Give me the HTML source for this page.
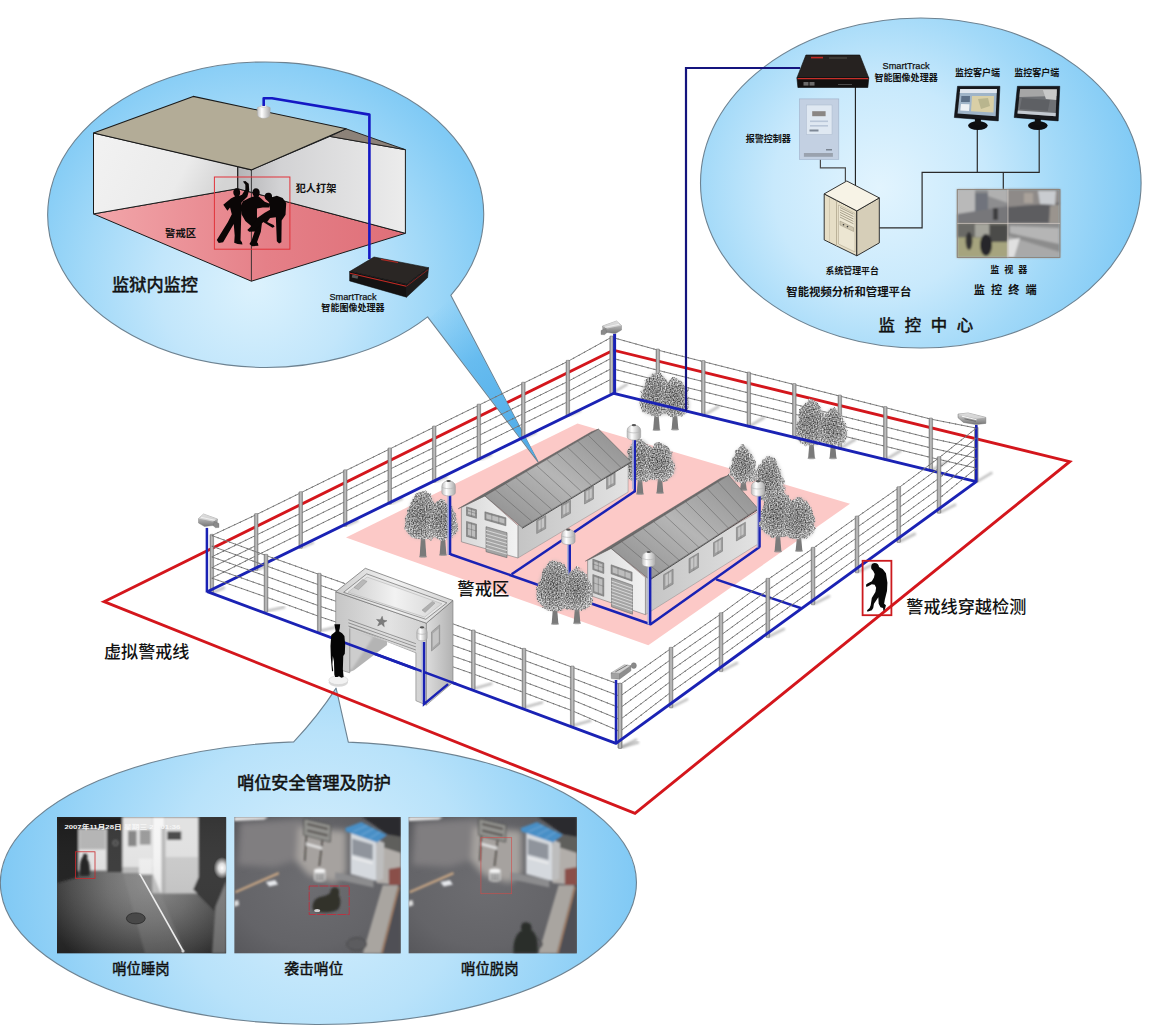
<!DOCTYPE html>
<html lang="zh-CN">
<head>
<meta charset="utf-8">
<title>智能视频监控 - 监狱周界防范系统示意图</title>
<style>
html,body{margin:0;padding:0;background:#fff;}
body{width:1152px;height:1033px;overflow:hidden;font-family:"Liberation Sans","Noto Sans CJK SC",sans-serif;}
svg{display:block;}
text{font-family:"Liberation Sans","Noto Sans CJK SC",sans-serif;fill:#111;}
.b{font-weight:bold;}
</style>
</head>
<body>
<svg width="1152" height="1033" viewBox="0 0 1152 1033">
<defs>
<radialGradient id="gE1" gradientUnits="userSpaceOnUse" cx="255" cy="285" r="242">
 <stop offset="0" stop-color="#dcf2fd"/><stop offset="0.4" stop-color="#c2e6fb"/><stop offset="0.7" stop-color="#a2d9f8"/><stop offset="1" stop-color="#80caf5"/>
</radialGradient>
<radialGradient id="gE2" gradientUnits="userSpaceOnUse" cx="880" cy="188" r="266">
 <stop offset="0" stop-color="#e2f4fe"/><stop offset="0.4" stop-color="#c8e9fc"/><stop offset="0.68" stop-color="#a2d9f8"/><stop offset="1" stop-color="#7ec9f5"/>
</radialGradient>
<radialGradient id="gE3" gradientUnits="userSpaceOnUse" cx="319" cy="880" r="330">
 <stop offset="0" stop-color="#d6effd"/><stop offset="0.45" stop-color="#b8e2fa"/><stop offset="0.75" stop-color="#98d4f7"/><stop offset="1" stop-color="#7cc7f4"/>
</radialGradient>
<linearGradient id="gPost" x1="0" x2="1" y1="0" y2="0">
 <stop offset="0" stop-color="#868686"/><stop offset="0.5" stop-color="#c4c4c4"/><stop offset="1" stop-color="#8e8e8e"/>
</linearGradient>
<linearGradient id="gFloor" x1="0" x2="1" y1="0" y2="0">
 <stop offset="0" stop-color="#f2a6aa"/><stop offset="0.55" stop-color="#e58088"/><stop offset="1" stop-color="#df6f78"/>
</linearGradient>
<linearGradient id="gWallL" x1="0" x2="1" y1="0" y2="0.3">
 <stop offset="0" stop-color="#f2f2f2"/><stop offset="0.7" stop-color="#ebebeb"/><stop offset="1" stop-color="#d4d4d4"/>
</linearGradient>
<linearGradient id="gWallR" x1="0" x2="1" y1="0" y2="0">
 <stop offset="0" stop-color="#b4b4b6"/><stop offset="0.25" stop-color="#d2d2d4"/><stop offset="1" stop-color="#ececec"/>
</linearGradient>
<linearGradient id="gRoof1" x1="0" x2="1" y1="1" y2="0">
 <stop offset="0" stop-color="#8a8a8a"/><stop offset="0.5" stop-color="#b6b6b6"/><stop offset="1" stop-color="#8c8c8c"/>
</linearGradient>
<linearGradient id="gWallF" x1="0" x2="1" y1="0" y2="0">
 <stop offset="0" stop-color="#d8d8d8"/><stop offset="1" stop-color="#f2f2f2"/>
</linearGradient>
<linearGradient id="gWallS" x1="0" x2="1" y1="0" y2="0">
 <stop offset="0" stop-color="#c4c4c4"/><stop offset="1" stop-color="#e2e2e2"/>
</linearGradient>
<radialGradient id="gTree" cx="0.45" cy="0.5" r="0.55">
 <stop offset="0" stop-color="#686868"/><stop offset="0.6" stop-color="#8a8a8a"/><stop offset="1" stop-color="#cacaca"/>
</radialGradient>
<linearGradient id="gLamp" x1="0" x2="1" y1="0" y2="0">
 <stop offset="0" stop-color="#bdbdbd"/><stop offset="0.35" stop-color="#ffffff"/><stop offset="1" stop-color="#a8a8a8"/>
</linearGradient>
<linearGradient id="gCam" x1="0" x2="0" y1="0" y2="1">
 <stop offset="0" stop-color="#e4e4e4"/><stop offset="0.5" stop-color="#a8a8a8"/><stop offset="1" stop-color="#777"/>
</linearGradient>
<linearGradient id="gGateF" x1="0" x2="1" y1="0" y2="0">
 <stop offset="0" stop-color="#c6c6c6"/><stop offset="0.6" stop-color="#e2e2e2"/><stop offset="1" stop-color="#d0d0d0"/>
</linearGradient>
<linearGradient id="gGateS" x1="0" x2="1" y1="0" y2="0">
 <stop offset="0" stop-color="#dcdcdc"/><stop offset="1" stop-color="#b2b2b2"/>
</linearGradient>
<linearGradient id="gGateT" x1="0" x2="1" y1="0" y2="0">
 <stop offset="0" stop-color="#cfcfcf"/><stop offset="0.5" stop-color="#f2f2f2"/><stop offset="1" stop-color="#d6d6d6"/>
</linearGradient>
<linearGradient id="gTail" gradientUnits="userSpaceOnUse" x1="440" y1="305" x2="538" y2="462">
 <stop offset="0" stop-color="#6fc0f0" stop-opacity="0"/><stop offset="0.35" stop-color="#62b9ee" stop-opacity="0.85"/><stop offset="1" stop-color="#4aa8e6" stop-opacity="1"/>
</linearGradient>
<filter id="fBlur1" x="-20%" y="-20%" width="140%" height="140%"><feGaussianBlur stdDeviation="0.8"/></filter>
<filter id="fBlur2" x="-20%" y="-20%" width="140%" height="140%"><feGaussianBlur stdDeviation="1.6"/></filter>
<filter id="fBlur3" x="-30%" y="-30%" width="160%" height="160%"><feGaussianBlur stdDeviation="3"/></filter>
<filter id="fTree" x="-15%" y="-15%" width="130%" height="130%" color-interpolation-filters="sRGB">
 <feTurbulence type="fractalNoise" baseFrequency="0.13" numOctaves="2" seed="4" result="lo"/>
 <feDisplacementMap in="SourceGraphic" in2="lo" scale="7" xChannelSelector="R" yChannelSelector="G" result="S"/>
 <feTurbulence type="fractalNoise" baseFrequency="0.75" numOctaves="1" seed="9" result="hi"/>
 <feColorMatrix in="hi" type="matrix" values="1.8 0 0 0 -0.42  1.8 0 0 0 -0.42  1.8 0 0 0 -0.42  0 0 0 0 1" result="g"/>
 <feComposite in="g" in2="S" operator="arithmetic" k1="0" k2="0.62" k3="0.5" k4="0" result="m"/>
 <feComposite in="m" in2="S" operator="in" result="c"/>
 <feGaussianBlur in="c" stdDeviation="0.5"/>
</filter>
<filter id="fGrain" x="0" y="0" width="100%" height="100%">
 <feTurbulence type="fractalNoise" baseFrequency="0.9" numOctaves="2" seed="3" result="n"/>
 <feColorMatrix in="n" type="matrix" values="0 0 0 0 0.5  0 0 0 0 0.5  0 0 0 0 0.5  0 0 0 0.9 -0.25"/>
 <feComposite in2="SourceGraphic" operator="in"/>
</filter>
</defs>
<rect width="1152" height="1033" fill="#ffffff"/>
<path d="M293.7,741.9 Q318.0,716.0 336.1,688.1 L348.3,742.1 A318,141.5 0 1 1 293.7,741.9 Z" fill="url(#gE3)" stroke="#6d8291" stroke-width="1.1" stroke-linejoin="round"/>
<svg x="57.0" y="817.0" width="169.3" height="136.6" viewBox="0 0 169.3 136.6" preserveAspectRatio="none">
<defs><radialGradient id="p1g" gradientUnits="userSpaceOnUse" cx="92" cy="66" r="105"><stop offset="0" stop-color="#8e8e8e"/><stop offset="0.4" stop-color="#707070"/><stop offset="0.75" stop-color="#4a4a4a"/><stop offset="1" stop-color="#2a2a2a"/></radialGradient><radialGradient id="p1f" cx="0.5" cy="0.5" r="0.5"><stop offset="0" stop-color="#ffffff"/><stop offset="0.4" stop-color="#f0f0f0" stop-opacity="0.9"/><stop offset="1" stop-color="#ffffff" stop-opacity="0"/></radialGradient><linearGradient id="p1s" x1="0" x2="0" y1="0" y2="1"><stop offset="0" stop-color="#ffffff" stop-opacity="0"/><stop offset="1" stop-color="#000" stop-opacity="0.18"/></linearGradient></defs>
<rect width="169.3" height="136.6" fill="url(#p1g)"/>
<g filter="url(#fBlur1)">
<polygon points="0.0,0.0 65.5,0.0 65.5,12.0 21.5,12.0 21.5,60.0 0.0,66.0" fill="#1e1e1e"/>
<rect x="21.5" y="12" width="28.3" height="41.6" fill="#e4e4e4"/>
<rect x="22.5" y="12" width="26" height="20.4" fill="#b4b4b4"/>
<rect x="49.8" y="10" width="15.7" height="45" fill="#383838"/>
<circle cx="58.5" cy="26" r="2.4" fill="none" stroke="#8a8a8a" stroke-width="0.8"/>
<rect x="65.5" y="0" width="29.8" height="50" fill="#e6e6e6"/>
<rect x="71" y="13.6" width="8.6" height="15.7" fill="#858585"/><rect x="82.7" y="12.9" width="11" height="14.8" fill="#9a9a9a"/>
<rect x="65.5" y="50" width="17" height="6" fill="#bdbdbd"/>
<rect x="95.3" y="0" width="12.5" height="76.3" fill="#f6f6f6"/>
<rect x="107.8" y="0" width="33.8" height="76.3" fill="#e2e2e2"/>
<rect x="107.8" y="40" width="33.8" height="36.3" fill="#cccccc"/>
<rect x="110.2" y="14.4" width="14.1" height="8.6" fill="#4a4a4a"/>
<rect x="104.5" y="10" width="4" height="66" fill="#b8b8b8"/>
<polygon points="141.6,0.0 169.3,0.0 169.3,72.0 161.2,98.0 136.1,72.5 141.6,60.0" fill="#363636"/>
<polygon points="158.5,90.0 169.3,64.0 169.3,136.6 155.0,136.6" fill="#808080"/>
<polygon points="66.0,56.0 96.0,57.0 128.0,136.6 88.0,136.6" fill="#8c8c8c" opacity="0.45"/>
<rect x="82" y="41.8" width="13.3" height="15.7" fill="#f2f2f2"/>
</g>
<rect width="169.3" height="136.6" fill="url(#p1s)"/>
<ellipse cx="165" cy="51" rx="8.5" ry="11" fill="url(#p1f)"/>
<path d="M23,59 C22,50 23,42 26,39.5 C25.5,37 28,35.8 29.6,37.2 C31,38.5 30.6,40.4 30,41.4 C33,45 33.4,53 32.4,59 Z" fill="#262626" filter="url(#fBlur1)"/>
<rect x="18.4" y="34.8" width="19.6" height="26.6" fill="none" stroke="#c8282c" stroke-width="0.8"/>
<line x1="82.7" y1="56.7" x2="125.9" y2="133.5" stroke="#ececec" stroke-width="1.6"/>
<circle cx="126" cy="134" r="1.6" fill="#d0d0d0"/>
<ellipse cx="78.8" cy="101.4" rx="9.4" ry="5.5" fill="#484848" stroke="#2c2c2c" stroke-width="0.9"/>
</svg>
<svg x="234.2" y="817.0" width="166.6" height="136.6" viewBox="0 0 166.6 136.6" preserveAspectRatio="none">
<defs><radialGradient id="p2g0" cx="0.45" cy="0.5" r="0.75"><stop offset="0" stop-color="#6d6d71"/><stop offset="0.6" stop-color="#646468"/><stop offset="1" stop-color="#525256"/></radialGradient></defs>
<rect width="166.6" height="136.6" fill="url(#p2g0)"/>
<g filter="url(#fBlur3)">
<polygon points="6.0,6.0 70.0,2.0 72.0,40.0 40.0,50.0 4.0,48.0" fill="#807e80"/>
<polygon points="64.0,10.0 112.0,14.0 112.0,56.0 100.0,66.0 74.0,58.0 62.0,44.0" fill="#a6a29f"/>
</g>
<g filter="url(#fBlur1)">
<polygon points="0.0,0.0 34.0,0.0 30.0,2.6 0.0,4.0" fill="#e8e8e8"/>
<polygon points="128.0,0.0 166.6,0.0 166.6,20.0 152.0,17.0 140.0,8.0" fill="#2c2c2e"/>
<polygon points="148.0,18.0 166.6,20.0 166.6,38.0 150.0,33.0" fill="#5e5e5c"/>
<polygon points="142.0,28.0 166.6,36.0 166.6,68.0 142.4,66.0" fill="#b2aeaa"/>
<polygon points="154.6,52.0 166.6,50.0 166.6,69.0 154.6,70.0" fill="#8a5048"/>
<polygon points="150.0,68.0 166.6,68.0 166.6,136.6 140.0,136.6" fill="#505054"/>
<polygon points="148.5,68.3 164.0,68.3 146.5,136.6 128.6,136.6" fill="#a9a5a0"/>
<line x1="164.6" y1="70.0" x2="147.5" y2="136.6" stroke="#b88a68" stroke-width="1.3"/>
<polygon points="101.1,55.3 139.3,63.0 139.3,70.5 101.1,62.0" fill="#8c8c8e"/>
<polygon points="116.4,14.0 142.4,22.0 142.4,64.0 116.4,57.0" fill="#d5d9de"/>
<polygon points="142.4,22.0 150.0,26.0 149.0,62.0 142.4,64.0" fill="#bdbdbd"/>
<polygon points="118.0,21.5 138.5,27.5 138.5,43.0 118.0,37.5" fill="#8f949c"/>
<polygon points="118.0,40.0 138.5,45.5 138.5,47.0 118.0,41.5" fill="#f2f2f2"/>
<polygon points="111.1,11.0 127.1,4.9 152.5,17.9 143.0,25.4 111.8,14.4" fill="#4a8fc6"/>
<line x1="119.1" y1="14.6" x2="133.4" y2="8.2" stroke="#7db4de" stroke-width="0.7"/>
<line x1="127.0" y1="18.2" x2="139.8" y2="11.4" stroke="#7db4de" stroke-width="0.7"/>
<line x1="135.0" y1="21.8" x2="146.2" y2="14.6" stroke="#7db4de" stroke-width="0.7"/>
<polygon points="69.8,1.8 96.6,8.0 96.0,25.0 69.4,18.0" fill="#92928e" stroke="#4a4a48" stroke-width="0.9"/>
<line x1="73.0" y1="7.0" x2="93.5" y2="12.0" stroke="#54504e" stroke-width="2"/>
<line x1="73.0" y1="13.5" x2="93.5" y2="18.5" stroke="#54504e" stroke-width="2"/>
<line x1="72.1" y1="18.5" x2="70.6" y2="44.0" stroke="#46423e" stroke-width="1.4"/>
<line x1="88.2" y1="23.0" x2="85.1" y2="49.2" stroke="#46423e" stroke-width="1.4"/>
<polygon points="72.0,25.5 88.0,30.0 88.0,32.8 72.0,28.3" fill="#e2e2e2"/>
<rect x="79.8" y="53.5" width="11.4" height="9.5" fill="#d9d9d9"/><ellipse cx="85.5" cy="53.5" rx="5.7" ry="2.1" fill="#f4f4f4"/><ellipse cx="85.5" cy="63" rx="5.7" ry="1.8" fill="#c9c9c9"/>
<line x1="82.0" y1="56.5" x2="82.0" y2="63.5" stroke="#3c3c3c" stroke-width="0.9"/>
<line x1="84.4" y1="56.5" x2="84.4" y2="63.5" stroke="#3c3c3c" stroke-width="0.9"/>
<line x1="86.8" y1="56.5" x2="86.8" y2="63.5" stroke="#3c3c3c" stroke-width="0.9"/>
<line x1="89.2" y1="56.5" x2="89.2" y2="63.5" stroke="#3c3c3c" stroke-width="0.9"/>
<line x1="1.1" y1="75.2" x2="44.6" y2="56.1" stroke="#c8a684" stroke-width="2.3"/>
<polygon points="31.6,65.0 41.0,63.0 43.9,67.5 35.0,69.5" fill="#e6e8ec"/>
<polygon points="0.0,84.0 4.0,83.0 5.0,88.0 0.0,90.0" fill="#dedede"/>
<ellipse cx="122.5" cy="127.1" rx="9.9" ry="6.4" fill="#5c5c5e" stroke="#444446" stroke-width="0.9"/>
</g>
<path d="M79,93 C77,88 80,81 86,80 C90,79 94,78 96,76 C96,72 99,69.5 102,70.5 C105,71.5 105.5,75 104.5,78 C107,82 107,90 103,93 C97,96 86,96.5 79,93 Z" fill="#30302c" filter="url(#fBlur1)"/>
<ellipse cx="83" cy="93.5" rx="3" ry="1.6" fill="#d0d0d0"/>
<rect x="75" y="69" width="40" height="28.5" fill="none" stroke="#c42c3c" stroke-width="0.85" stroke-dasharray="9 1.2"/>
</svg>
<svg x="408.4" y="817.0" width="168.5" height="136.6" viewBox="0 0 166.6 136.6" preserveAspectRatio="none">
<defs><radialGradient id="p2g1" cx="0.45" cy="0.5" r="0.75"><stop offset="0" stop-color="#6d6d71"/><stop offset="0.6" stop-color="#646468"/><stop offset="1" stop-color="#525256"/></radialGradient></defs>
<rect width="166.6" height="136.6" fill="url(#p2g1)"/>
<g filter="url(#fBlur3)">
<polygon points="6.0,6.0 70.0,2.0 72.0,40.0 40.0,50.0 4.0,48.0" fill="#807e80"/>
<polygon points="64.0,10.0 112.0,14.0 112.0,56.0 100.0,66.0 74.0,58.0 62.0,44.0" fill="#a6a29f"/>
</g>
<g filter="url(#fBlur1)">
<polygon points="0.0,0.0 34.0,0.0 30.0,2.6 0.0,4.0" fill="#e8e8e8"/>
<polygon points="128.0,0.0 166.6,0.0 166.6,20.0 152.0,17.0 140.0,8.0" fill="#2c2c2e"/>
<polygon points="148.0,18.0 166.6,20.0 166.6,38.0 150.0,33.0" fill="#5e5e5c"/>
<polygon points="142.0,28.0 166.6,36.0 166.6,68.0 142.4,66.0" fill="#b2aeaa"/>
<polygon points="154.6,52.0 166.6,50.0 166.6,69.0 154.6,70.0" fill="#8a5048"/>
<polygon points="150.0,68.0 166.6,68.0 166.6,136.6 140.0,136.6" fill="#505054"/>
<polygon points="148.5,68.3 164.0,68.3 146.5,136.6 128.6,136.6" fill="#a9a5a0"/>
<line x1="164.6" y1="70.0" x2="147.5" y2="136.6" stroke="#b88a68" stroke-width="1.3"/>
<polygon points="101.1,55.3 139.3,63.0 139.3,70.5 101.1,62.0" fill="#8c8c8e"/>
<polygon points="116.4,14.0 142.4,22.0 142.4,64.0 116.4,57.0" fill="#d5d9de"/>
<polygon points="142.4,22.0 150.0,26.0 149.0,62.0 142.4,64.0" fill="#bdbdbd"/>
<polygon points="118.0,21.5 138.5,27.5 138.5,43.0 118.0,37.5" fill="#8f949c"/>
<polygon points="118.0,40.0 138.5,45.5 138.5,47.0 118.0,41.5" fill="#f2f2f2"/>
<polygon points="111.1,11.0 127.1,4.9 152.5,17.9 143.0,25.4 111.8,14.4" fill="#4a8fc6"/>
<line x1="119.1" y1="14.6" x2="133.4" y2="8.2" stroke="#7db4de" stroke-width="0.7"/>
<line x1="127.0" y1="18.2" x2="139.8" y2="11.4" stroke="#7db4de" stroke-width="0.7"/>
<line x1="135.0" y1="21.8" x2="146.2" y2="14.6" stroke="#7db4de" stroke-width="0.7"/>
<polygon points="69.8,1.8 96.6,8.0 96.0,25.0 69.4,18.0" fill="#92928e" stroke="#4a4a48" stroke-width="0.9"/>
<line x1="73.0" y1="7.0" x2="93.5" y2="12.0" stroke="#54504e" stroke-width="2"/>
<line x1="73.0" y1="13.5" x2="93.5" y2="18.5" stroke="#54504e" stroke-width="2"/>
<line x1="72.1" y1="18.5" x2="70.6" y2="44.0" stroke="#46423e" stroke-width="1.4"/>
<line x1="88.2" y1="23.0" x2="85.1" y2="49.2" stroke="#46423e" stroke-width="1.4"/>
<polygon points="72.0,25.5 88.0,30.0 88.0,32.8 72.0,28.3" fill="#e2e2e2"/>
<rect x="79.8" y="53.5" width="11.4" height="9.5" fill="#d9d9d9"/><ellipse cx="85.5" cy="53.5" rx="5.7" ry="2.1" fill="#f4f4f4"/><ellipse cx="85.5" cy="63" rx="5.7" ry="1.8" fill="#c9c9c9"/>
<line x1="82.0" y1="56.5" x2="82.0" y2="63.5" stroke="#3c3c3c" stroke-width="0.9"/>
<line x1="84.4" y1="56.5" x2="84.4" y2="63.5" stroke="#3c3c3c" stroke-width="0.9"/>
<line x1="86.8" y1="56.5" x2="86.8" y2="63.5" stroke="#3c3c3c" stroke-width="0.9"/>
<line x1="89.2" y1="56.5" x2="89.2" y2="63.5" stroke="#3c3c3c" stroke-width="0.9"/>
<line x1="1.1" y1="75.2" x2="44.6" y2="56.1" stroke="#c8a684" stroke-width="2.3"/>
<polygon points="31.6,65.0 41.0,63.0 43.9,67.5 35.0,69.5" fill="#e6e8ec"/>
<polygon points="0.0,84.0 4.0,83.0 5.0,88.0 0.0,90.0" fill="#dedede"/>
<ellipse cx="122.5" cy="127.1" rx="9.9" ry="6.4" fill="#5c5c5e" stroke="#444446" stroke-width="0.9"/>
</g>
<rect x="71.7" y="20.7" width="30.4" height="56" fill="none" stroke="#d44a48" stroke-width="0.7" opacity="0.85"/>
<path d="M104,136.6 C103,124 107,116 112,113.5 C110,108 113.5,104.5 117,105.5 C121,105.5 122.5,109.5 121.5,113 C126.5,116 128.5,124 127.5,136.6 Z" fill="#2c2e2a" filter="url(#fBlur1)"/>
</svg>
<polygon points="346.0,537.5 577.5,423.4 850.0,503.8 648.3,645.3" fill="#fcc9c7"/>
<polygon points="104.0,601.7 613.3,350.2 1069.7,461.7 635.0,813.3" fill="none" stroke="#d4161c" stroke-width="2.9" stroke-linejoin="miter"/>
<path d="M427.6,316.9 A218,152.7 0 1 1 450.8,295.3 L538.0,461.8 Z" fill="url(#gE1)" stroke="#6d8291" stroke-width="1.1" stroke-linejoin="round"/>
<polygon points="429.5,318.5 450.6,297.5 537.4,460.0" fill="url(#gTail)"/>
<polygon points="93.5,213.9 237.7,188.7 405.4,233.3 251.4,281.2" fill="url(#gFloor)" stroke="#1a1a1a" stroke-width="1"/>
<polygon points="93.5,133.0 237.7,166.3 237.7,188.7 93.5,213.9" fill="url(#gWallL)" stroke="#1a1a1a" stroke-width="1"/>
<polygon points="251.4,169.9 329.9,136.4 405.4,149.7 405.4,233.3 237.7,188.7 237.7,166.5" fill="url(#gWallR)" stroke="#1a1a1a" stroke-width="1"/>
<polygon points="329.9,136.4 346.1,128.8 405.4,149.7" fill="#8c8279" stroke="#1a1a1a" stroke-width="0.9"/>
<polygon points="93.5,133.0 193.2,96.4 346.1,128.8 251.4,169.9" fill="#b3ac97" stroke="#1a1a1a" stroke-width="1.1" stroke-linejoin="round"/>
<line x1="237.7" y1="166.0" x2="237.7" y2="189.0" stroke="#2a2a2a" stroke-width="0.9"/>
<line x1="251.4" y1="169.9" x2="251.4" y2="281.2" stroke="#2a2a2a" stroke-width="0.9"/>
<g transform="translate(195,160) scale(0.09683)" fill="#0a0606">
<path d="M430,292 C405,292 392,315 396,340 C398,358 408,368 415,375 L370,398 L292,462 L335,525 L362,490 L380,560 L340,640 L225,825 L245,858 L290,850 L310,815 L400,660 L410,780 L405,855 L440,868 L490,872 L485,850 L470,830 L475,660 L478,560 L480,440 L540,380 L560,310 L555,245 L520,218 L495,222 L520,255 L520,305 L485,360 L455,372 C468,355 470,330 462,312 C455,298 445,292 430,292 Z"/>
<path d="M630,292 C605,292 592,312 594,338 C595,355 602,368 610,375 L560,392 L495,425 L470,480 L480,560 L520,630 L590,690 L615,740 L585,830 L562,868 L590,890 L655,886 L650,860 L640,850 L680,740 L690,660 L640,590 L640,500 L700,490 L765,490 L780,455 L720,430 L680,395 L655,375 C668,360 672,335 664,315 C658,300 645,292 630,292 Z"/>
<path d="M755,338 C730,338 718,358 720,380 C721,398 732,410 742,415 L765,440 L775,515 L720,545 L650,595 L575,690 L540,722 L560,742 L610,738 L650,700 L705,640 L800,700 L822,690 L812,670 L745,640 L775,600 L835,590 L845,840 L868,862 L892,850 L895,625 L935,565 L942,445 L905,392 L845,370 L795,385 C798,365 790,345 775,340 C768,338 760,338 755,338 Z"/>
</g>
<rect x="214.4" y="177" width="75.5" height="72.2" fill="none" stroke="#e2323a" stroke-width="1"/>
<path d="M257.2,108 L257.5,114.5 C257.5,119.5 270,119.5 270,114.5 L270.3,108 C270.3,105.8 257.2,105.8 257.2,108 Z" fill="url(#gLamp)" stroke="#aaa" stroke-width="0.4"/>
<ellipse cx="263.7" cy="106.2" rx="3" ry="1.4" fill="#e8e8e8" stroke="#aaa" stroke-width="0.3"/>
<polyline points="263.7,106.0 263.7,98.3 272.0,98.3 369.4,114.6 369.4,259.0" fill="none" stroke="#1418c4" stroke-width="2.6" stroke-linejoin="round"/>
<polygon points="349.6,271.6 374.0,257.0 428.6,267.7 406.5,284.4" fill="#2a2624" stroke="#111" stroke-width="0.6"/>
<polygon points="349.6,271.6 406.5,284.4 406.5,297.2 349.6,280.9" fill="#141212" stroke="#0a0a0a" stroke-width="0.5"/>
<polygon points="406.5,284.4 428.6,267.7 427.6,277.6 406.5,297.2" fill="#1e1c1c" stroke="#0a0a0a" stroke-width="0.5"/>
<line x1="350.0" y1="273.3" x2="406.3" y2="286.2" stroke="#c42a24" stroke-width="1.1"/>
<line x1="406.6" y1="286.2" x2="428.2" y2="269.6" stroke="#8a2420" stroke-width="0.9"/>
<line x1="381.0" y1="259.3" x2="398.0" y2="262.5" stroke="#b02a24" stroke-width="1.2"/>
<rect x="352" y="275.2" width="6" height="3" fill="#555" transform="rotate(13 355 276.7)"/>
<ellipse cx="920.8" cy="183.0" rx="220.3" ry="165.0" fill="url(#gE2)" stroke="#6d8291" stroke-width="1.1"/>
<polyline points="820.4,159.4 820.4,167.8 845.4,167.8 845.4,181.5" fill="none" stroke="#4a4a4a" stroke-width="1.2"/>
<line x1="855.4" y1="87.0" x2="855.4" y2="185.5" stroke="#1a1a1a" stroke-width="1.1"/>
<polyline points="879.3,227.9 922.1,227.9 922.1,172.4 1039.2,172.4 1039.2,128.0" fill="none" stroke="#2a2a2a" stroke-width="1.2"/>
<line x1="977.3" y1="128.0" x2="977.3" y2="172.4" stroke="#2a2a2a" stroke-width="1.2"/>
<line x1="1003.3" y1="172.4" x2="1003.3" y2="189.5" stroke="#2a2a2a" stroke-width="1.2"/>
<polygon points="805.9,55.0 859.8,55.0 868.8,77.9 796.9,77.9" fill="#262220" stroke="#0c0c0c" stroke-width="0.6" stroke-linejoin="round"/>
<polygon points="796.9,77.9 868.8,77.9 867.8,87.5 797.9,87.5" fill="#121010" stroke="#0a0a0a" stroke-width="0.6" stroke-linejoin="round"/>
<line x1="797.5" y1="78.6" x2="868.3" y2="78.6" stroke="#c8302a" stroke-width="1.2"/>
<line x1="811.0" y1="57.6" x2="823.0" y2="57.6" stroke="#c02a24" stroke-width="1.6"/>
<line x1="829.0" y1="58.0" x2="847.0" y2="58.0" stroke="#6a6460" stroke-width="0.7"/>
<rect x="803.5" y="82" width="5" height="3.6" fill="#6a6a6a"/><rect x="809.5" y="82" width="5" height="3.6" fill="#6a6a6a"/>
<line x1="838.0" y1="84.5" x2="852.0" y2="84.5" stroke="#4a4a4a" stroke-width="1"/>
<rect x="799.5" y="98.9" width="39.3" height="60.5" fill="#c3d0e2" stroke="#9fb0c8" stroke-width="0.6"/>
<rect x="806.4" y="105" width="25.6" height="29.5" fill="#dfe8f2" stroke="#a9b8cc" stroke-width="0.5"/>
<rect x="812.2" y="111.2" width="13.4" height="5" fill="#8a8684"/>
<rect x="810" y="120.5" width="18" height="1.6" fill="#b9c6d8"/><rect x="810" y="125" width="18" height="1.6" fill="#b9c6d8"/>
<rect x="809.5" y="129.5" width="9" height="2" fill="#7e8896"/>
<rect x="803.9" y="153" width="29" height="3.8" fill="#9aa2ae"/>
<rect x="826" y="149" width="6" height="1.5" fill="#7a8492"/>
<polygon points="824.2,193.9 856.8,210.9 856.8,255.8 824.2,239.9" fill="#e6dec6" stroke="#1e1e1e" stroke-width="0.9" stroke-linejoin="round"/>
<polygon points="856.8,210.9 879.3,197.9 879.3,242.9 856.8,255.8" fill="#d6ceb8" stroke="#1e1e1e" stroke-width="0.9" stroke-linejoin="round"/>
<polygon points="846.8,181.0 879.3,197.9 856.8,210.9 824.2,193.9" fill="#f7f3e6" stroke="#1e1e1e" stroke-width="0.9" stroke-linejoin="round"/>
<polygon points="838.5,205.0 855.0,213.5 855.0,252.0 838.5,244.0" fill="#ece6d2" stroke="#a89f86" stroke-width="0.5"/>
<line x1="836.5" y1="200.5" x2="836.5" y2="246.0" stroke="#b0a78e" stroke-width="0.8"/>
<line x1="829.5" y1="198.0" x2="829.5" y2="242.0" stroke="#c8c0a8" stroke-width="0.7"/>
<line x1="840.0" y1="207.5" x2="853.5" y2="214.2" stroke="#8c8470" stroke-width="0.7"/>
<line x1="840.0" y1="209.9" x2="853.5" y2="216.6" stroke="#8c8470" stroke-width="0.7"/>
<line x1="840.0" y1="212.3" x2="853.5" y2="219.0" stroke="#8c8470" stroke-width="0.7"/>
<line x1="840.0" y1="214.7" x2="853.5" y2="221.4" stroke="#8c8470" stroke-width="0.7"/>
<line x1="840.0" y1="217.1" x2="853.5" y2="223.8" stroke="#8c8470" stroke-width="0.7"/>
<polygon points="840.0,221.0 853.5,227.6 853.5,231.5 840.0,225.0" fill="#cfc7b0" stroke="#8c8470" stroke-width="0.4"/>
<circle cx="843.5" cy="224.7" r="0.8" fill="#333"/><circle cx="847.5" cy="226.6" r="0.8" fill="#333"/>
<ellipse cx="977.9" cy="125.6" rx="9.8" ry="4.3" fill="#0e0e10"/>
<rect x="974.9" y="118" width="6" height="7" fill="#111"/>
<polygon points="957.5,86.3 999.9,86.3 998.3,120.9 954.3,117.5" fill="#17181c" stroke="#05050a" stroke-width="0.5"/>
<polygon points="960.2,89.0 996.9,89.0 995.7,116.3 957.6,113.6" fill="#9fb4c8"/>
<polygon points="960.2,89.0 996.9,89.0 996.7,93.0 959.8,93.0" fill="#dfe6ee"/>
<polygon points="972.0,96.0 994.0,96.0 993.5,112.5 971.0,111.3" fill="#d9cfa6"/>
<polygon points="961.0,104.0 969.5,104.3 969.0,111.0 960.3,110.4" fill="#eef2f6"/>
<polygon points="961.4,96.0 970.0,96.0 969.8,102.0 961.0,102.0" fill="#5c7088"/>
<polygon points="978.0,99.0 988.0,98.0 990.0,106.0 981.0,109.0" fill="#b9b58e"/>
<ellipse cx="1037.8" cy="125.6" rx="9.8" ry="4.3" fill="#0e0e10"/>
<rect x="1034.8" y="118" width="6" height="7" fill="#111"/>
<polygon points="1017.4,86.3 1059.8,86.3 1058.2,120.9 1014.2,117.5" fill="#17181c" stroke="#05050a" stroke-width="0.5"/>
<polygon points="1020.1,89.0 1056.8,89.0 1055.6,116.3 1017.5,113.6" fill="#6e7074"/>
<polygon points="1020.1,89.0 1056.8,89.0 1056.5,96.0 1019.5,97.0" fill="#a6a6a6"/>
<polygon points="1042.9,90.0 1056.7,90.0 1056.2,100.0 1045.9,99.0" fill="#c8c8c8"/>
<polygon points="1017.9,110.6 1055.8,113.0 1055.6,116.3 1017.5,113.6" fill="#c4cad2"/>
<polygon points="1021.9,98.0 1049.9,100.0 1047.9,111.0 1019.9,109.0" fill="#5e6064"/>
<g filter="url(#fBlur1)">
<rect x="957.3" y="189.6" width="102.6" height="67.8" fill="#7e7e7c"/>
<rect x="957.3" y="189.6" width="50.6" height="33.8" fill="#8d8d8f"/>
<polygon points="957.3,189.6 975.0,189.6 975.0,212.0 957.3,220.0" fill="#b9b9b9"/>
<polygon points="975.0,193.0 988.0,193.0 988.0,210.0 975.0,212.0" fill="#6f737c"/>
<polygon points="988.0,189.6 1007.9,189.6 1007.9,203.0 988.0,196.0" fill="#b0b0b0"/>
<polygon points="957.3,214.0 1007.9,206.0 1007.9,223.4 957.3,223.4" fill="#77777a"/>
<rect x="993" y="208" width="5" height="12" fill="#3c3c40"/>
<rect x="1007.9" y="189.6" width="52" height="33.8" fill="#5d5d60"/>
<polygon points="1007.9,189.6 1059.9,189.6 1059.9,203.0 1007.9,207.0" fill="#8e8a88"/>
<polygon points="1038.0,191.0 1056.0,191.0 1055.0,205.0 1040.0,204.0" fill="#c9ccd0"/>
<polygon points="1050.0,206.0 1059.9,204.0 1059.9,223.4 1049.0,223.4" fill="#9a948e"/>
<rect x="1024" y="193" width="9" height="10" fill="#a9a19a"/>
<rect x="957.3" y="223.4" width="50.6" height="34" fill="#a6a47e"/>
<rect x="957.3" y="223.4" width="50.6" height="14" fill="#6b6b66"/>
<rect x="975" y="224" width="14" height="13" fill="#a5a59c"/><rect x="990" y="225" width="17.9" height="17" fill="#4c4c48"/>
<ellipse cx="986" cy="245" rx="6" ry="11" fill="#27272a"/><ellipse cx="969" cy="241" rx="3.4" ry="9" fill="#303032"/>
<rect x="1007.9" y="223.4" width="52" height="34" fill="#a9a9a9"/>
<polygon points="1007.9,223.4 1059.9,223.4 1059.9,252.0 1007.9,236.0" fill="#8c8c8c"/>
<polygon points="1007.9,240.0 1020.0,238.0 1014.0,257.4 1007.9,257.4" fill="#e0e0e0"/>
<polygon points="1010.0,226.0 1059.0,228.0 1059.0,244.0 1010.0,233.0" fill="#b5b5b5"/>
</g>
<rect x="957.3" y="189.6" width="102.6" height="67.8" fill="none" stroke="#8c8076" stroke-width="1"/>
<line x1="1007.9" y1="189.6" x2="1007.9" y2="257.4" stroke="#d8d0c8" stroke-width="0.7"/>
<line x1="957.3" y1="223.4" x2="1059.9" y2="223.4" stroke="#d8d0c8" stroke-width="0.7"/>
<line x1="212.8" y1="592.5" x2="224.8" y2="587.5" stroke="#8a8a8a" stroke-width="2.6" opacity="0.55" filter="url(#fBlur1)"/>
<line x1="257.2" y1="569.5" x2="269.2" y2="564.5" stroke="#8a8a8a" stroke-width="2.6" opacity="0.55" filter="url(#fBlur1)"/>
<line x1="301.7" y1="547.4" x2="313.7" y2="542.4" stroke="#8a8a8a" stroke-width="2.6" opacity="0.55" filter="url(#fBlur1)"/>
<line x1="346.2" y1="525.4" x2="358.2" y2="520.4" stroke="#8a8a8a" stroke-width="2.6" opacity="0.55" filter="url(#fBlur1)"/>
<line x1="390.7" y1="503.3" x2="402.7" y2="498.3" stroke="#8a8a8a" stroke-width="2.6" opacity="0.55" filter="url(#fBlur1)"/>
<line x1="435.2" y1="481.3" x2="447.2" y2="476.3" stroke="#8a8a8a" stroke-width="2.6" opacity="0.55" filter="url(#fBlur1)"/>
<line x1="479.8" y1="459.3" x2="491.8" y2="454.3" stroke="#8a8a8a" stroke-width="2.6" opacity="0.55" filter="url(#fBlur1)"/>
<line x1="524.3" y1="437.2" x2="536.3" y2="432.2" stroke="#8a8a8a" stroke-width="2.6" opacity="0.55" filter="url(#fBlur1)"/>
<line x1="568.8" y1="415.2" x2="580.8" y2="410.2" stroke="#8a8a8a" stroke-width="2.6" opacity="0.55" filter="url(#fBlur1)"/>
<line x1="211.8" y1="535.5" x2="256.2" y2="514.7" stroke="#7a7a7a" stroke-width="0.95"/>
<line x1="211.8" y1="535.5" x2="256.2" y2="514.7" stroke="#606060" stroke-width="1.2" stroke-dasharray="1 5.2" opacity="0.8"/>
<line x1="211.8" y1="556.8" x2="256.2" y2="535.2" stroke="#7a7a7a" stroke-width="0.95"/>
<line x1="211.8" y1="556.8" x2="256.2" y2="535.2" stroke="#606060" stroke-width="1.2" stroke-dasharray="1 5.2" opacity="0.8"/>
<line x1="211.8" y1="567.5" x2="256.2" y2="545.4" stroke="#7a7a7a" stroke-width="0.95"/>
<line x1="211.8" y1="567.5" x2="256.2" y2="545.4" stroke="#606060" stroke-width="1.2" stroke-dasharray="1 5.2" opacity="0.8"/>
<line x1="211.8" y1="578.1" x2="256.2" y2="555.7" stroke="#7a7a7a" stroke-width="0.95"/>
<line x1="211.8" y1="578.1" x2="256.2" y2="555.7" stroke="#606060" stroke-width="1.2" stroke-dasharray="1 5.2" opacity="0.8"/>
<line x1="256.2" y1="514.7" x2="300.7" y2="492.8" stroke="#7a7a7a" stroke-width="0.95"/>
<line x1="256.2" y1="514.7" x2="300.7" y2="492.8" stroke="#606060" stroke-width="1.2" stroke-dasharray="1 5.2" opacity="0.8"/>
<line x1="256.2" y1="535.2" x2="300.7" y2="513.3" stroke="#7a7a7a" stroke-width="0.95"/>
<line x1="256.2" y1="535.2" x2="300.7" y2="513.3" stroke="#606060" stroke-width="1.2" stroke-dasharray="1 5.2" opacity="0.8"/>
<line x1="256.2" y1="545.4" x2="300.7" y2="523.5" stroke="#7a7a7a" stroke-width="0.95"/>
<line x1="256.2" y1="545.4" x2="300.7" y2="523.5" stroke="#606060" stroke-width="1.2" stroke-dasharray="1 5.2" opacity="0.8"/>
<line x1="256.2" y1="555.7" x2="300.7" y2="533.7" stroke="#7a7a7a" stroke-width="0.95"/>
<line x1="256.2" y1="555.7" x2="300.7" y2="533.7" stroke="#606060" stroke-width="1.2" stroke-dasharray="1 5.2" opacity="0.8"/>
<line x1="300.7" y1="492.8" x2="345.2" y2="470.9" stroke="#7a7a7a" stroke-width="0.95"/>
<line x1="300.7" y1="492.8" x2="345.2" y2="470.9" stroke="#606060" stroke-width="1.2" stroke-dasharray="1 5.2" opacity="0.8"/>
<line x1="300.7" y1="513.3" x2="345.2" y2="491.3" stroke="#7a7a7a" stroke-width="0.95"/>
<line x1="300.7" y1="513.3" x2="345.2" y2="491.3" stroke="#606060" stroke-width="1.2" stroke-dasharray="1 5.2" opacity="0.8"/>
<line x1="300.7" y1="523.5" x2="345.2" y2="501.5" stroke="#7a7a7a" stroke-width="0.95"/>
<line x1="300.7" y1="523.5" x2="345.2" y2="501.5" stroke="#606060" stroke-width="1.2" stroke-dasharray="1 5.2" opacity="0.8"/>
<line x1="300.7" y1="533.7" x2="345.2" y2="511.7" stroke="#7a7a7a" stroke-width="0.95"/>
<line x1="300.7" y1="533.7" x2="345.2" y2="511.7" stroke="#606060" stroke-width="1.2" stroke-dasharray="1 5.2" opacity="0.8"/>
<line x1="345.2" y1="470.9" x2="389.7" y2="449.0" stroke="#7a7a7a" stroke-width="0.95"/>
<line x1="345.2" y1="470.9" x2="389.7" y2="449.0" stroke="#606060" stroke-width="1.2" stroke-dasharray="1 5.2" opacity="0.8"/>
<line x1="345.2" y1="491.3" x2="389.7" y2="469.3" stroke="#7a7a7a" stroke-width="0.95"/>
<line x1="345.2" y1="491.3" x2="389.7" y2="469.3" stroke="#606060" stroke-width="1.2" stroke-dasharray="1 5.2" opacity="0.8"/>
<line x1="345.2" y1="501.5" x2="389.7" y2="479.5" stroke="#7a7a7a" stroke-width="0.95"/>
<line x1="345.2" y1="501.5" x2="389.7" y2="479.5" stroke="#606060" stroke-width="1.2" stroke-dasharray="1 5.2" opacity="0.8"/>
<line x1="345.2" y1="511.7" x2="389.7" y2="489.7" stroke="#7a7a7a" stroke-width="0.95"/>
<line x1="345.2" y1="511.7" x2="389.7" y2="489.7" stroke="#606060" stroke-width="1.2" stroke-dasharray="1 5.2" opacity="0.8"/>
<line x1="389.7" y1="449.0" x2="434.2" y2="427.1" stroke="#7a7a7a" stroke-width="0.95"/>
<line x1="389.7" y1="449.0" x2="434.2" y2="427.1" stroke="#606060" stroke-width="1.2" stroke-dasharray="1 5.2" opacity="0.8"/>
<line x1="389.7" y1="469.3" x2="434.2" y2="447.4" stroke="#7a7a7a" stroke-width="0.95"/>
<line x1="389.7" y1="469.3" x2="434.2" y2="447.4" stroke="#606060" stroke-width="1.2" stroke-dasharray="1 5.2" opacity="0.8"/>
<line x1="389.7" y1="479.5" x2="434.2" y2="457.5" stroke="#7a7a7a" stroke-width="0.95"/>
<line x1="389.7" y1="479.5" x2="434.2" y2="457.5" stroke="#606060" stroke-width="1.2" stroke-dasharray="1 5.2" opacity="0.8"/>
<line x1="389.7" y1="489.7" x2="434.2" y2="467.7" stroke="#7a7a7a" stroke-width="0.95"/>
<line x1="389.7" y1="489.7" x2="434.2" y2="467.7" stroke="#606060" stroke-width="1.2" stroke-dasharray="1 5.2" opacity="0.8"/>
<line x1="434.2" y1="427.1" x2="478.8" y2="405.2" stroke="#7a7a7a" stroke-width="0.95"/>
<line x1="434.2" y1="427.1" x2="478.8" y2="405.2" stroke="#606060" stroke-width="1.2" stroke-dasharray="1 5.2" opacity="0.8"/>
<line x1="434.2" y1="447.4" x2="478.8" y2="425.4" stroke="#7a7a7a" stroke-width="0.95"/>
<line x1="434.2" y1="447.4" x2="478.8" y2="425.4" stroke="#606060" stroke-width="1.2" stroke-dasharray="1 5.2" opacity="0.8"/>
<line x1="434.2" y1="457.5" x2="478.8" y2="435.5" stroke="#7a7a7a" stroke-width="0.95"/>
<line x1="434.2" y1="457.5" x2="478.8" y2="435.5" stroke="#606060" stroke-width="1.2" stroke-dasharray="1 5.2" opacity="0.8"/>
<line x1="434.2" y1="467.7" x2="478.8" y2="445.7" stroke="#7a7a7a" stroke-width="0.95"/>
<line x1="434.2" y1="467.7" x2="478.8" y2="445.7" stroke="#606060" stroke-width="1.2" stroke-dasharray="1 5.2" opacity="0.8"/>
<line x1="478.8" y1="405.2" x2="523.3" y2="383.3" stroke="#7a7a7a" stroke-width="0.95"/>
<line x1="478.8" y1="405.2" x2="523.3" y2="383.3" stroke="#606060" stroke-width="1.2" stroke-dasharray="1 5.2" opacity="0.8"/>
<line x1="478.8" y1="425.4" x2="523.3" y2="403.5" stroke="#7a7a7a" stroke-width="0.95"/>
<line x1="478.8" y1="425.4" x2="523.3" y2="403.5" stroke="#606060" stroke-width="1.2" stroke-dasharray="1 5.2" opacity="0.8"/>
<line x1="478.8" y1="435.5" x2="523.3" y2="413.6" stroke="#7a7a7a" stroke-width="0.95"/>
<line x1="478.8" y1="435.5" x2="523.3" y2="413.6" stroke="#606060" stroke-width="1.2" stroke-dasharray="1 5.2" opacity="0.8"/>
<line x1="478.8" y1="445.7" x2="523.3" y2="423.7" stroke="#7a7a7a" stroke-width="0.95"/>
<line x1="478.8" y1="445.7" x2="523.3" y2="423.7" stroke="#606060" stroke-width="1.2" stroke-dasharray="1 5.2" opacity="0.8"/>
<line x1="523.3" y1="383.3" x2="567.8" y2="361.4" stroke="#7a7a7a" stroke-width="0.95"/>
<line x1="523.3" y1="383.3" x2="567.8" y2="361.4" stroke="#606060" stroke-width="1.2" stroke-dasharray="1 5.2" opacity="0.8"/>
<line x1="523.3" y1="403.5" x2="567.8" y2="381.5" stroke="#7a7a7a" stroke-width="0.95"/>
<line x1="523.3" y1="403.5" x2="567.8" y2="381.5" stroke="#606060" stroke-width="1.2" stroke-dasharray="1 5.2" opacity="0.8"/>
<line x1="523.3" y1="413.6" x2="567.8" y2="391.6" stroke="#7a7a7a" stroke-width="0.95"/>
<line x1="523.3" y1="413.6" x2="567.8" y2="391.6" stroke="#606060" stroke-width="1.2" stroke-dasharray="1 5.2" opacity="0.8"/>
<line x1="523.3" y1="423.7" x2="567.8" y2="401.7" stroke="#7a7a7a" stroke-width="0.95"/>
<line x1="523.3" y1="423.7" x2="567.8" y2="401.7" stroke="#606060" stroke-width="1.2" stroke-dasharray="1 5.2" opacity="0.8"/>
<line x1="567.8" y1="361.4" x2="611.6" y2="337.2" stroke="#7a7a7a" stroke-width="0.95"/>
<line x1="567.8" y1="361.4" x2="611.6" y2="337.2" stroke="#606060" stroke-width="1.2" stroke-dasharray="1 5.2" opacity="0.8"/>
<line x1="567.8" y1="381.5" x2="611.6" y2="358.0" stroke="#7a7a7a" stroke-width="0.95"/>
<line x1="567.8" y1="381.5" x2="611.6" y2="358.0" stroke="#606060" stroke-width="1.2" stroke-dasharray="1 5.2" opacity="0.8"/>
<line x1="567.8" y1="391.6" x2="611.6" y2="368.5" stroke="#7a7a7a" stroke-width="0.95"/>
<line x1="567.8" y1="391.6" x2="611.6" y2="368.5" stroke="#606060" stroke-width="1.2" stroke-dasharray="1 5.2" opacity="0.8"/>
<line x1="567.8" y1="401.7" x2="611.6" y2="378.9" stroke="#7a7a7a" stroke-width="0.95"/>
<line x1="567.8" y1="401.7" x2="611.6" y2="378.9" stroke="#606060" stroke-width="1.2" stroke-dasharray="1 5.2" opacity="0.8"/>
<rect x="210.0" y="534.3" width="3.6" height="59.2" rx="0.8" fill="url(#gPost)" stroke="#6e6e6e" stroke-width="0.5"/>
<rect x="254.4" y="513.6" width="3.6" height="56.9" rx="0.8" fill="url(#gPost)" stroke="#6e6e6e" stroke-width="0.5"/>
<rect x="298.9" y="491.7" width="3.6" height="56.7" rx="0.8" fill="url(#gPost)" stroke="#6e6e6e" stroke-width="0.5"/>
<rect x="343.4" y="469.8" width="3.6" height="56.6" rx="0.8" fill="url(#gPost)" stroke="#6e6e6e" stroke-width="0.5"/>
<rect x="387.9" y="447.9" width="3.6" height="56.4" rx="0.8" fill="url(#gPost)" stroke="#6e6e6e" stroke-width="0.5"/>
<rect x="432.4" y="426.0" width="3.6" height="56.3" rx="0.8" fill="url(#gPost)" stroke="#6e6e6e" stroke-width="0.5"/>
<rect x="477.0" y="404.1" width="3.6" height="56.2" rx="0.8" fill="url(#gPost)" stroke="#6e6e6e" stroke-width="0.5"/>
<rect x="521.5" y="382.2" width="3.6" height="56.0" rx="0.8" fill="url(#gPost)" stroke="#6e6e6e" stroke-width="0.5"/>
<rect x="566.0" y="360.3" width="3.6" height="55.9" rx="0.8" fill="url(#gPost)" stroke="#6e6e6e" stroke-width="0.5"/>
<line x1="612.6" y1="393.0" x2="627.6" y2="384.0" stroke="#8a8a8a" stroke-width="2.6" opacity="0.55" filter="url(#fBlur1)"/>
<line x1="658.8" y1="404.1" x2="673.8" y2="395.1" stroke="#8a8a8a" stroke-width="2.6" opacity="0.55" filter="url(#fBlur1)"/>
<line x1="704.3" y1="415.1" x2="719.3" y2="406.1" stroke="#8a8a8a" stroke-width="2.6" opacity="0.55" filter="url(#fBlur1)"/>
<line x1="749.8" y1="426.1" x2="764.8" y2="417.1" stroke="#8a8a8a" stroke-width="2.6" opacity="0.55" filter="url(#fBlur1)"/>
<line x1="795.3" y1="437.2" x2="810.3" y2="428.2" stroke="#8a8a8a" stroke-width="2.6" opacity="0.55" filter="url(#fBlur1)"/>
<line x1="840.8" y1="448.2" x2="855.8" y2="439.2" stroke="#8a8a8a" stroke-width="2.6" opacity="0.55" filter="url(#fBlur1)"/>
<line x1="886.3" y1="459.3" x2="901.3" y2="450.3" stroke="#8a8a8a" stroke-width="2.6" opacity="0.55" filter="url(#fBlur1)"/>
<line x1="931.8" y1="470.4" x2="946.8" y2="461.4" stroke="#8a8a8a" stroke-width="2.6" opacity="0.55" filter="url(#fBlur1)"/>
<line x1="977.3" y1="481.5" x2="992.3" y2="472.5" stroke="#8a8a8a" stroke-width="2.6" opacity="0.55" filter="url(#fBlur1)"/>
<line x1="611.6" y1="337.2" x2="657.8" y2="350.1" stroke="#7a7a7a" stroke-width="0.95"/>
<line x1="611.6" y1="337.2" x2="657.8" y2="350.1" stroke="#606060" stroke-width="1.2" stroke-dasharray="1 5.2" opacity="0.8"/>
<line x1="611.6" y1="358.0" x2="657.8" y2="370.3" stroke="#7a7a7a" stroke-width="0.95"/>
<line x1="611.6" y1="358.0" x2="657.8" y2="370.3" stroke="#606060" stroke-width="1.2" stroke-dasharray="1 5.2" opacity="0.8"/>
<line x1="611.6" y1="368.5" x2="657.8" y2="380.4" stroke="#7a7a7a" stroke-width="0.95"/>
<line x1="611.6" y1="368.5" x2="657.8" y2="380.4" stroke="#606060" stroke-width="1.2" stroke-dasharray="1 5.2" opacity="0.8"/>
<line x1="611.6" y1="378.9" x2="657.8" y2="390.5" stroke="#7a7a7a" stroke-width="0.95"/>
<line x1="611.6" y1="378.9" x2="657.8" y2="390.5" stroke="#606060" stroke-width="1.2" stroke-dasharray="1 5.2" opacity="0.8"/>
<line x1="657.8" y1="350.1" x2="703.3" y2="361.6" stroke="#7a7a7a" stroke-width="0.95"/>
<line x1="657.8" y1="350.1" x2="703.3" y2="361.6" stroke="#606060" stroke-width="1.2" stroke-dasharray="1 5.2" opacity="0.8"/>
<line x1="657.8" y1="370.3" x2="703.3" y2="381.6" stroke="#7a7a7a" stroke-width="0.95"/>
<line x1="657.8" y1="370.3" x2="703.3" y2="381.6" stroke="#606060" stroke-width="1.2" stroke-dasharray="1 5.2" opacity="0.8"/>
<line x1="657.8" y1="380.4" x2="703.3" y2="391.6" stroke="#7a7a7a" stroke-width="0.95"/>
<line x1="657.8" y1="380.4" x2="703.3" y2="391.6" stroke="#606060" stroke-width="1.2" stroke-dasharray="1 5.2" opacity="0.8"/>
<line x1="657.8" y1="390.5" x2="703.3" y2="401.6" stroke="#7a7a7a" stroke-width="0.95"/>
<line x1="657.8" y1="390.5" x2="703.3" y2="401.6" stroke="#606060" stroke-width="1.2" stroke-dasharray="1 5.2" opacity="0.8"/>
<line x1="703.3" y1="361.6" x2="748.8" y2="373.1" stroke="#7a7a7a" stroke-width="0.95"/>
<line x1="703.3" y1="361.6" x2="748.8" y2="373.1" stroke="#606060" stroke-width="1.2" stroke-dasharray="1 5.2" opacity="0.8"/>
<line x1="703.3" y1="381.6" x2="748.8" y2="393.0" stroke="#7a7a7a" stroke-width="0.95"/>
<line x1="703.3" y1="381.6" x2="748.8" y2="393.0" stroke="#606060" stroke-width="1.2" stroke-dasharray="1 5.2" opacity="0.8"/>
<line x1="703.3" y1="391.6" x2="748.8" y2="402.9" stroke="#7a7a7a" stroke-width="0.95"/>
<line x1="703.3" y1="391.6" x2="748.8" y2="402.9" stroke="#606060" stroke-width="1.2" stroke-dasharray="1 5.2" opacity="0.8"/>
<line x1="703.3" y1="401.6" x2="748.8" y2="412.8" stroke="#7a7a7a" stroke-width="0.95"/>
<line x1="703.3" y1="401.6" x2="748.8" y2="412.8" stroke="#606060" stroke-width="1.2" stroke-dasharray="1 5.2" opacity="0.8"/>
<line x1="748.8" y1="373.1" x2="794.3" y2="384.6" stroke="#7a7a7a" stroke-width="0.95"/>
<line x1="748.8" y1="373.1" x2="794.3" y2="384.6" stroke="#606060" stroke-width="1.2" stroke-dasharray="1 5.2" opacity="0.8"/>
<line x1="748.8" y1="393.0" x2="794.3" y2="404.3" stroke="#7a7a7a" stroke-width="0.95"/>
<line x1="748.8" y1="393.0" x2="794.3" y2="404.3" stroke="#606060" stroke-width="1.2" stroke-dasharray="1 5.2" opacity="0.8"/>
<line x1="748.8" y1="402.9" x2="794.3" y2="414.1" stroke="#7a7a7a" stroke-width="0.95"/>
<line x1="748.8" y1="402.9" x2="794.3" y2="414.1" stroke="#606060" stroke-width="1.2" stroke-dasharray="1 5.2" opacity="0.8"/>
<line x1="748.8" y1="412.8" x2="794.3" y2="424.0" stroke="#7a7a7a" stroke-width="0.95"/>
<line x1="748.8" y1="412.8" x2="794.3" y2="424.0" stroke="#606060" stroke-width="1.2" stroke-dasharray="1 5.2" opacity="0.8"/>
<line x1="794.3" y1="384.6" x2="839.8" y2="396.1" stroke="#7a7a7a" stroke-width="0.95"/>
<line x1="794.3" y1="384.6" x2="839.8" y2="396.1" stroke="#606060" stroke-width="1.2" stroke-dasharray="1 5.2" opacity="0.8"/>
<line x1="794.3" y1="404.3" x2="839.8" y2="415.6" stroke="#7a7a7a" stroke-width="0.95"/>
<line x1="794.3" y1="404.3" x2="839.8" y2="415.6" stroke="#606060" stroke-width="1.2" stroke-dasharray="1 5.2" opacity="0.8"/>
<line x1="794.3" y1="414.1" x2="839.8" y2="425.4" stroke="#7a7a7a" stroke-width="0.95"/>
<line x1="794.3" y1="414.1" x2="839.8" y2="425.4" stroke="#606060" stroke-width="1.2" stroke-dasharray="1 5.2" opacity="0.8"/>
<line x1="794.3" y1="424.0" x2="839.8" y2="435.1" stroke="#7a7a7a" stroke-width="0.95"/>
<line x1="794.3" y1="424.0" x2="839.8" y2="435.1" stroke="#606060" stroke-width="1.2" stroke-dasharray="1 5.2" opacity="0.8"/>
<line x1="839.8" y1="396.1" x2="885.3" y2="407.6" stroke="#7a7a7a" stroke-width="0.95"/>
<line x1="839.8" y1="396.1" x2="885.3" y2="407.6" stroke="#606060" stroke-width="1.2" stroke-dasharray="1 5.2" opacity="0.8"/>
<line x1="839.8" y1="415.6" x2="885.3" y2="426.9" stroke="#7a7a7a" stroke-width="0.95"/>
<line x1="839.8" y1="415.6" x2="885.3" y2="426.9" stroke="#606060" stroke-width="1.2" stroke-dasharray="1 5.2" opacity="0.8"/>
<line x1="839.8" y1="425.4" x2="885.3" y2="436.6" stroke="#7a7a7a" stroke-width="0.95"/>
<line x1="839.8" y1="425.4" x2="885.3" y2="436.6" stroke="#606060" stroke-width="1.2" stroke-dasharray="1 5.2" opacity="0.8"/>
<line x1="839.8" y1="435.1" x2="885.3" y2="446.3" stroke="#7a7a7a" stroke-width="0.95"/>
<line x1="839.8" y1="435.1" x2="885.3" y2="446.3" stroke="#606060" stroke-width="1.2" stroke-dasharray="1 5.2" opacity="0.8"/>
<line x1="885.3" y1="407.6" x2="930.8" y2="419.1" stroke="#7a7a7a" stroke-width="0.95"/>
<line x1="885.3" y1="407.6" x2="930.8" y2="419.1" stroke="#606060" stroke-width="1.2" stroke-dasharray="1 5.2" opacity="0.8"/>
<line x1="885.3" y1="426.9" x2="930.8" y2="438.3" stroke="#7a7a7a" stroke-width="0.95"/>
<line x1="885.3" y1="426.9" x2="930.8" y2="438.3" stroke="#606060" stroke-width="1.2" stroke-dasharray="1 5.2" opacity="0.8"/>
<line x1="885.3" y1="436.6" x2="930.8" y2="447.9" stroke="#7a7a7a" stroke-width="0.95"/>
<line x1="885.3" y1="436.6" x2="930.8" y2="447.9" stroke="#606060" stroke-width="1.2" stroke-dasharray="1 5.2" opacity="0.8"/>
<line x1="885.3" y1="446.3" x2="930.8" y2="457.5" stroke="#7a7a7a" stroke-width="0.95"/>
<line x1="885.3" y1="446.3" x2="930.8" y2="457.5" stroke="#606060" stroke-width="1.2" stroke-dasharray="1 5.2" opacity="0.8"/>
<line x1="930.8" y1="419.1" x2="976.3" y2="428.1" stroke="#7a7a7a" stroke-width="0.95"/>
<line x1="930.8" y1="419.1" x2="976.3" y2="428.1" stroke="#606060" stroke-width="1.2" stroke-dasharray="1 5.2" opacity="0.8"/>
<line x1="930.8" y1="438.3" x2="976.3" y2="448.1" stroke="#7a7a7a" stroke-width="0.95"/>
<line x1="930.8" y1="438.3" x2="976.3" y2="448.1" stroke="#606060" stroke-width="1.2" stroke-dasharray="1 5.2" opacity="0.8"/>
<line x1="930.8" y1="447.9" x2="976.3" y2="458.1" stroke="#7a7a7a" stroke-width="0.95"/>
<line x1="930.8" y1="447.9" x2="976.3" y2="458.1" stroke="#606060" stroke-width="1.2" stroke-dasharray="1 5.2" opacity="0.8"/>
<line x1="930.8" y1="457.5" x2="976.3" y2="468.1" stroke="#7a7a7a" stroke-width="0.95"/>
<line x1="930.8" y1="457.5" x2="976.3" y2="468.1" stroke="#606060" stroke-width="1.2" stroke-dasharray="1 5.2" opacity="0.8"/>
<rect x="609.8" y="336.0" width="3.6" height="58.0" rx="0.8" fill="url(#gPost)" stroke="#6e6e6e" stroke-width="0.5"/>
<rect x="656.0" y="349.0" width="3.6" height="56.1" rx="0.8" fill="url(#gPost)" stroke="#6e6e6e" stroke-width="0.5"/>
<rect x="701.5" y="360.5" width="3.6" height="55.6" rx="0.8" fill="url(#gPost)" stroke="#6e6e6e" stroke-width="0.5"/>
<rect x="747.0" y="372.0" width="3.6" height="55.1" rx="0.8" fill="url(#gPost)" stroke="#6e6e6e" stroke-width="0.5"/>
<rect x="792.5" y="383.5" width="3.6" height="54.7" rx="0.8" fill="url(#gPost)" stroke="#6e6e6e" stroke-width="0.5"/>
<rect x="838.0" y="395.0" width="3.6" height="54.2" rx="0.8" fill="url(#gPost)" stroke="#6e6e6e" stroke-width="0.5"/>
<rect x="883.5" y="406.5" width="3.6" height="53.8" rx="0.8" fill="url(#gPost)" stroke="#6e6e6e" stroke-width="0.5"/>
<rect x="929.0" y="418.0" width="3.6" height="53.4" rx="0.8" fill="url(#gPost)" stroke="#6e6e6e" stroke-width="0.5"/>
<rect x="974.5" y="427.0" width="3.6" height="55.5" rx="0.8" fill="url(#gPost)" stroke="#6e6e6e" stroke-width="0.5"/>
<g><path d="M654.7,411.0 L658.3,411.0 L659.9,430.0 L653.1,430.0 Z" fill="#7a7a7a"/><ellipse cx="656.5" cy="430.0" rx="4.0" ry="1" fill="#8a8a8a" opacity="0.7"/><path d="M656.5,372.0 C665.9,372.0 672.6,390.9 673.5,402.6 C673.8,413.4 663.3,417.0 656.5,416.0 C649.7,417.0 639.2,413.4 639.5,402.6 C640.4,390.9 647.1,372.0 656.5,372.0 Z" fill="#b4b4b4" opacity="0.5" filter="url(#fBlur2)"/><path d="M656.5,372.0 C665.9,372.0 672.6,390.9 673.5,402.6 C673.8,413.4 663.3,417.0 656.5,416.0 C649.7,417.0 639.2,413.4 639.5,402.6 C640.4,390.9 647.1,372.0 656.5,372.0 Z" fill="url(#gTree)" filter="url(#fTree)"/></g>
<g><path d="M673.2,411.0 L676.8,411.0 L678.4,429.5 L671.6,429.5 Z" fill="#7a7a7a"/><ellipse cx="675.0" cy="429.5" rx="4.0" ry="1" fill="#8a8a8a" opacity="0.7"/><path d="M675.0,378.0 C683.2,378.0 689.2,394.4 690.0,404.5 C690.3,413.9 681.0,417.0 675.0,416.0 C669.0,417.0 659.7,413.9 660.0,404.5 C660.8,394.4 666.8,378.0 675.0,378.0 Z" fill="#b4b4b4" opacity="0.5" filter="url(#fBlur2)"/><path d="M675.0,378.0 C683.2,378.0 689.2,394.4 690.0,404.5 C690.3,413.9 681.0,417.0 675.0,416.0 C669.0,417.0 659.7,413.9 660.0,404.5 C660.8,394.4 666.8,378.0 675.0,378.0 Z" fill="url(#gTree)" filter="url(#fTree)"/></g>
<g><path d="M809.7,440.0 L813.3,440.0 L814.9,458.3 L808.1,458.3 Z" fill="#7a7a7a"/><ellipse cx="811.5" cy="458.3" rx="4.0" ry="1" fill="#8a8a8a" opacity="0.7"/><path d="M811.5,400.0 C820.3,400.0 826.7,419.3 827.5,431.3 C827.8,442.3 817.9,446.0 811.5,445.0 C805.1,446.0 795.2,442.3 795.5,431.3 C796.3,419.3 802.7,400.0 811.5,400.0 Z" fill="#b4b4b4" opacity="0.5" filter="url(#fBlur2)"/><path d="M811.5,400.0 C820.3,400.0 826.7,419.3 827.5,431.3 C827.8,442.3 817.9,446.0 811.5,445.0 C805.1,446.0 795.2,442.3 795.5,431.3 C796.3,419.3 802.7,400.0 811.5,400.0 Z" fill="url(#gTree)" filter="url(#fTree)"/></g>
<g><path d="M831.2,440.0 L834.8,440.0 L836.4,458.3 L829.6,458.3 Z" fill="#7a7a7a"/><ellipse cx="833.0" cy="458.3" rx="4.0" ry="1" fill="#8a8a8a" opacity="0.7"/><path d="M833.0,408.0 C840.7,408.0 846.3,424.0 847.0,433.8 C847.3,443.0 838.6,446.0 833.0,445.0 C827.4,446.0 818.7,443.0 819.0,433.8 C819.7,424.0 825.3,408.0 833.0,408.0 Z" fill="#b4b4b4" opacity="0.5" filter="url(#fBlur2)"/><path d="M833.0,408.0 C840.7,408.0 846.3,424.0 847.0,433.8 C847.3,443.0 838.6,446.0 833.0,445.0 C827.4,446.0 818.7,443.0 819.0,433.8 C819.7,424.0 825.3,408.0 833.0,408.0 Z" fill="url(#gTree)" filter="url(#fTree)"/></g>
<polyline points="207.3,591.7 613.8,393.3 976.3,481.7" fill="none" stroke="#1a22b4" stroke-width="2.9" stroke-linejoin="round"/>
<line x1="614.6" y1="333.8" x2="614.6" y2="393.5" stroke="#1a22b4" stroke-width="3"/>
<line x1="976.3" y1="425.0" x2="976.3" y2="482.0" stroke="#1a22b4" stroke-width="2.6"/>
<polyline points="800.0,68.0 686.0,68.0 686.0,411.0" fill="none" stroke="#14147e" stroke-width="2.2"/>
<g><path d="M638.2,476.0 L641.8,476.0 L643.4,494.0 L636.6,494.0 Z" fill="#7a7a7a"/><ellipse cx="640.0" cy="494.0" rx="4.0" ry="1" fill="#8a8a8a" opacity="0.7"/><path d="M640.0,439.0 C649.1,439.0 655.7,457.1 656.5,468.2 C656.8,478.6 646.6,482.0 640.0,481.0 C633.4,482.0 623.2,478.6 623.5,468.2 C624.3,457.1 630.9,439.0 640.0,439.0 Z" fill="#b4b4b4" opacity="0.5" filter="url(#fBlur2)"/><path d="M640.0,439.0 C649.1,439.0 655.7,457.1 656.5,468.2 C656.8,478.6 646.6,482.0 640.0,481.0 C633.4,482.0 623.2,478.6 623.5,468.2 C624.3,457.1 630.9,439.0 640.0,439.0 Z" fill="url(#gTree)" filter="url(#fTree)"/></g>
<g><path d="M658.2,475.0 L661.8,475.0 L663.4,493.0 L656.6,493.0 Z" fill="#7a7a7a"/><ellipse cx="660.0" cy="493.0" rx="4.0" ry="1" fill="#8a8a8a" opacity="0.7"/><path d="M660.0,443.0 C668.5,443.0 674.7,459.0 675.5,468.8 C675.8,478.0 666.2,481.0 660.0,480.0 C653.8,481.0 644.2,478.0 644.5,468.8 C645.3,459.0 651.5,443.0 660.0,443.0 Z" fill="#b4b4b4" opacity="0.5" filter="url(#fBlur2)"/><path d="M660.0,443.0 C668.5,443.0 674.7,459.0 675.5,468.8 C675.8,478.0 666.2,481.0 660.0,480.0 C653.8,481.0 644.2,478.0 644.5,468.8 C645.3,459.0 651.5,443.0 660.0,443.0 Z" fill="url(#gTree)" filter="url(#fTree)"/></g>
<g><path d="M421.2,534.0 L424.8,534.0 L426.4,556.7 L419.6,556.7 Z" fill="#7a7a7a"/><ellipse cx="423.0" cy="556.7" rx="4.0" ry="1" fill="#8a8a8a" opacity="0.7"/><path d="M423.0,491.0 C432.9,491.0 440.1,511.6 441.0,524.3 C441.4,536.1 430.2,540.0 423.0,539.0 C415.8,540.0 404.6,536.1 405.0,524.3 C405.9,511.6 413.1,491.0 423.0,491.0 Z" fill="#b4b4b4" opacity="0.5" filter="url(#fBlur2)"/><path d="M423.0,491.0 C432.9,491.0 440.1,511.6 441.0,524.3 C441.4,536.1 430.2,540.0 423.0,539.0 C415.8,540.0 404.6,536.1 405.0,524.3 C405.9,511.6 413.1,491.0 423.0,491.0 Z" fill="url(#gTree)" filter="url(#fTree)"/></g>
<g><path d="M441.2,534.0 L444.8,534.0 L446.4,555.0 L439.6,555.0 Z" fill="#7a7a7a"/><ellipse cx="443.0" cy="555.0" rx="4.0" ry="1" fill="#8a8a8a" opacity="0.7"/><path d="M443.0,500.0 C451.2,500.0 457.2,516.8 458.0,527.2 C458.3,536.8 449.0,540.0 443.0,539.0 C437.0,540.0 427.7,536.8 428.0,527.2 C428.8,516.8 434.8,500.0 443.0,500.0 Z" fill="#b4b4b4" opacity="0.5" filter="url(#fBlur2)"/><path d="M443.0,500.0 C451.2,500.0 457.2,516.8 458.0,527.2 C458.3,536.8 449.0,540.0 443.0,539.0 C437.0,540.0 427.7,536.8 428.0,527.2 C428.8,516.8 434.8,500.0 443.0,500.0 Z" fill="url(#gTree)" filter="url(#fTree)"/></g>
<polyline points="511.6,574.2 634.8,491.2" fill="none" stroke="#1a22b4" stroke-width="2.5"/>
<line x1="634.8" y1="440.0" x2="634.8" y2="492.2" stroke="#1a22b4" stroke-width="2.4"/>
<line x1="633.0" y1="440.0" x2="633.0" y2="489.0" stroke="#aab0d8" stroke-width="1.6"/>
<g><polygon points="517.9,525.5 628.1,463.5 628.1,492.1 517.9,558.0" fill="url(#gWallS)" stroke="#8a8a8a" stroke-width="0.5"/><polygon points="461.4,541.8 461.4,507.4 484.9,495.9 517.9,525.5 517.9,558.0" fill="url(#gWallF)" stroke="#777" stroke-width="0.6"/><polygon points="536.7,520.6 545.7,515.6 545.7,528.6 536.7,533.6" fill="#9c9c9c" stroke="#6e6e6e" stroke-width="0.5"/><polygon points="538.5,521.1 544.0,518.1 544.0,527.1 538.5,530.1" fill="#c6c6c6"/><line x1="541.2" y1="518.1" x2="541.2" y2="531.1" stroke="#7a7a7a" stroke-width="0.5"/><polygon points="561.5,505.3 570.5,500.3 570.5,513.3 561.5,518.3" fill="#9c9c9c" stroke="#6e6e6e" stroke-width="0.5"/><polygon points="563.2,505.8 568.8,502.8 568.8,511.8 563.2,514.8" fill="#c6c6c6"/><line x1="566.0" y1="502.8" x2="566.0" y2="515.8" stroke="#7a7a7a" stroke-width="0.5"/><polygon points="584.5,491.0 593.5,486.0 593.5,499.0 584.5,504.0" fill="#9c9c9c" stroke="#6e6e6e" stroke-width="0.5"/><polygon points="586.2,491.5 591.8,488.5 591.8,497.5 586.2,500.5" fill="#c6c6c6"/><line x1="589.0" y1="488.5" x2="589.0" y2="501.5" stroke="#7a7a7a" stroke-width="0.5"/><polygon points="606.6,476.8 615.1,472.1 615.1,484.6 606.6,489.3" fill="#9c9c9c" stroke="#6e6e6e" stroke-width="0.5"/><polygon points="608.4,477.3 613.4,474.6 613.4,483.1 608.4,485.8" fill="#c6c6c6"/><line x1="610.9" y1="474.4" x2="610.9" y2="486.9" stroke="#7a7a7a" stroke-width="0.5"/><polygon points="466.5,506.9 476.5,509.8 476.5,518.3 466.5,515.4" fill="#8e8e8e" stroke="#666" stroke-width="0.5"/><polygon points="468.0,509.1 475.0,511.1 475.0,516.1 468.0,514.1" fill="#bdbdbd"/><line x1="471.5" y1="508.4" x2="471.5" y2="516.9" stroke="#707070" stroke-width="0.5"/><line x1="466.5" y1="510.7" x2="476.5" y2="513.6" stroke="#707070" stroke-width="0.5"/><polygon points="466.5,521.4 476.5,524.2 476.5,539.2 466.5,536.4" fill="#8e8e8e" stroke="#666" stroke-width="0.5"/><polygon points="468.0,523.5 475.0,525.6 475.0,537.1 468.0,535.0" fill="#bdbdbd"/><line x1="471.5" y1="522.8" x2="471.5" y2="537.8" stroke="#707070" stroke-width="0.5"/><line x1="466.5" y1="528.1" x2="476.5" y2="531.0" stroke="#707070" stroke-width="0.5"/><polygon points="484.9,511.8 505.9,517.8 505.9,525.8 484.9,519.8" fill="#8e8e8e" stroke="#666" stroke-width="0.5"/><polygon points="486.4,514.0 504.4,519.1 504.4,523.6 486.4,518.5" fill="#bdbdbd"/><line x1="491.8" y1="513.8" x2="491.8" y2="521.8" stroke="#707070" stroke-width="0.5"/><line x1="498.8" y1="515.8" x2="498.8" y2="523.8" stroke="#707070" stroke-width="0.5"/><polygon points="486.0,526.7 507.0,532.7 507.0,557.7 486.0,551.7" fill="#a4a4a4" stroke="#6a6a6a" stroke-width="0.6"/><line x1="486.0" y1="530.3" x2="507.0" y2="536.3" stroke="#dcdcdc" stroke-width="0.9"/><line x1="486.0" y1="533.8" x2="507.0" y2="539.9" stroke="#dcdcdc" stroke-width="0.9"/><line x1="486.0" y1="537.4" x2="507.0" y2="543.4" stroke="#dcdcdc" stroke-width="0.9"/><line x1="486.0" y1="541.0" x2="507.0" y2="547.0" stroke="#dcdcdc" stroke-width="0.9"/><line x1="486.0" y1="544.5" x2="507.0" y2="550.6" stroke="#dcdcdc" stroke-width="0.9"/><line x1="486.0" y1="548.1" x2="507.0" y2="554.1" stroke="#dcdcdc" stroke-width="0.9"/><polygon points="458.1,508.8 484.9,495.9 598.5,429.1 591.5,431.8" fill="#6c6c6c" stroke="#555" stroke-width="0.4"/><polygon points="484.9,495.9 598.5,429.1 631.0,461.6 522.1,527.5" fill="url(#gRoof1)" stroke="#5c5c5c" stroke-width="0.6"/><line x1="495.2" y1="489.8" x2="532.0" y2="521.5" stroke="#5a5a5a" stroke-width="0.55" opacity="0.9"/><line x1="505.6" y1="483.8" x2="541.9" y2="515.5" stroke="#5a5a5a" stroke-width="0.55" opacity="0.9"/><line x1="515.9" y1="477.7" x2="551.8" y2="509.5" stroke="#5a5a5a" stroke-width="0.55" opacity="0.9"/><line x1="526.2" y1="471.6" x2="561.7" y2="503.5" stroke="#5a5a5a" stroke-width="0.55" opacity="0.9"/><line x1="536.5" y1="465.5" x2="571.6" y2="497.5" stroke="#5a5a5a" stroke-width="0.55" opacity="0.9"/><line x1="546.9" y1="459.5" x2="581.5" y2="491.6" stroke="#5a5a5a" stroke-width="0.55" opacity="0.9"/><line x1="557.2" y1="453.4" x2="591.4" y2="485.6" stroke="#5a5a5a" stroke-width="0.55" opacity="0.9"/><line x1="567.5" y1="447.3" x2="601.3" y2="479.6" stroke="#5a5a5a" stroke-width="0.55" opacity="0.9"/><line x1="577.8" y1="441.2" x2="611.2" y2="473.6" stroke="#5a5a5a" stroke-width="0.55" opacity="0.9"/><line x1="588.2" y1="435.2" x2="621.1" y2="467.6" stroke="#5a5a5a" stroke-width="0.55" opacity="0.9"/><line x1="522.1" y1="528.3" x2="631.0" y2="462.4" stroke="#4e4e4e" stroke-width="1"/></g>
<path d="M627.1,436.8 L627.1,430.6 C627.1,423.2 640.7,423.2 640.7,430.6 L640.7,436.8 C640.7,441.2 627.1,441.2 627.1,436.8 Z" fill="url(#gLamp)" stroke="#9a9a9a" stroke-width="0.5"/><path d="M627.1,431.3 C630.5,433.4 637.3,433.4 640.7,431.3" fill="none" stroke="#b0b0b0" stroke-width="0.6"/><ellipse cx="633.9" cy="425.2" rx="2.2" ry="1.1" fill="#555"/>
<g><path d="M741.6,478.0 L745.2,478.0 L746.8,490.0 L740.0,490.0 Z" fill="#7a7a7a"/><ellipse cx="743.4" cy="490.0" rx="4.0" ry="1" fill="#8a8a8a" opacity="0.7"/><path d="M743.4,446.0 C750.8,446.0 756.2,462.0 756.9,471.8 C757.2,481.0 748.8,484.0 743.4,483.0 C738.0,484.0 729.6,481.0 729.9,471.8 C730.6,462.0 736.0,446.0 743.4,446.0 Z" fill="#b4b4b4" opacity="0.5" filter="url(#fBlur2)"/><path d="M743.4,446.0 C750.8,446.0 756.2,462.0 756.9,471.8 C757.2,481.0 748.8,484.0 743.4,483.0 C738.0,484.0 729.6,481.0 729.9,471.8 C730.6,462.0 736.0,446.0 743.4,446.0 Z" fill="url(#gTree)" filter="url(#fTree)"/></g>
<g><path d="M767.7,496.0 L771.3,496.0 L772.9,506.0 L766.1,506.0 Z" fill="#7a7a7a"/><ellipse cx="769.5" cy="506.0" rx="4.0" ry="1" fill="#8a8a8a" opacity="0.7"/><path d="M769.5,456.0 C777.8,456.0 783.8,475.3 784.5,487.3 C784.8,498.3 775.5,502.0 769.5,501.0 C763.5,502.0 754.2,498.3 754.5,487.3 C755.2,475.3 761.2,456.0 769.5,456.0 Z" fill="#b4b4b4" opacity="0.5" filter="url(#fBlur2)"/><path d="M769.5,456.0 C777.8,456.0 783.8,475.3 784.5,487.3 C784.8,498.3 775.5,502.0 769.5,501.0 C763.5,502.0 754.2,498.3 754.5,487.3 C755.2,475.3 761.2,456.0 769.5,456.0 Z" fill="url(#gTree)" filter="url(#fTree)"/></g>
<polyline points="450.5,554.2 650.6,624.2 759.6,546.9" fill="none" stroke="#1a22b4" stroke-width="2.5" stroke-linejoin="round"/>
<line x1="448.3" y1="495.1" x2="448.3" y2="555.0" stroke="#aab0d8" stroke-width="1.8"/><line x1="450.1" y1="495.1" x2="450.1" y2="555.0" stroke="#1a22b4" stroke-width="2.4"/><path d="M441.8,492.6 L441.8,486.4 C441.8,479.0 455.4,479.0 455.4,486.4 L455.4,492.6 C455.4,497.0 441.8,497.0 441.8,492.6 Z" fill="url(#gLamp)" stroke="#9a9a9a" stroke-width="0.5"/><path d="M441.8,487.1 C445.2,489.2 452.0,489.2 455.4,487.1" fill="none" stroke="#b0b0b0" stroke-width="0.6"/><ellipse cx="448.6" cy="481.0" rx="2.2" ry="1.1" fill="#555"/>
<polyline points="716.1,579.4 801.3,608.3" fill="none" stroke="#1a22b4" stroke-width="2.5"/>
<g><polygon points="645.4,577.5 758.1,511.6 758.1,544.0 645.4,614.7" fill="url(#gWallS)" stroke="#8a8a8a" stroke-width="0.5"/><polygon points="587.6,594.6 587.6,560.3 611.1,548.4 645.4,577.5 645.4,614.7" fill="url(#gWallF)" stroke="#777" stroke-width="0.6"/><polygon points="663.6,574.7 673.1,569.1 673.1,584.1 663.6,589.7" fill="#9c9c9c" stroke="#6e6e6e" stroke-width="0.5"/><polygon points="665.4,575.2 671.4,571.6 671.4,582.6 665.4,586.2" fill="#c6c6c6"/><line x1="668.4" y1="571.9" x2="668.4" y2="586.9" stroke="#7a7a7a" stroke-width="0.5"/><polygon points="689.0,558.7 698.5,553.0 698.5,567.5 689.0,573.2" fill="#9c9c9c" stroke="#6e6e6e" stroke-width="0.5"/><polygon points="690.8,559.1 696.8,555.6 696.8,566.1 690.8,569.6" fill="#c6c6c6"/><line x1="693.8" y1="555.9" x2="693.8" y2="570.4" stroke="#7a7a7a" stroke-width="0.5"/><polygon points="713.5,542.6 722.5,537.2 722.5,551.2 713.5,556.6" fill="#9c9c9c" stroke="#6e6e6e" stroke-width="0.5"/><polygon points="715.2,543.0 720.8,539.8 720.8,549.8 715.2,553.0" fill="#c6c6c6"/><line x1="718.0" y1="539.9" x2="718.0" y2="553.9" stroke="#7a7a7a" stroke-width="0.5"/><polygon points="736.4,527.5 745.4,522.2 745.4,535.7 736.4,541.0" fill="#9c9c9c" stroke="#6e6e6e" stroke-width="0.5"/><polygon points="738.1,528.0 743.6,524.7 743.6,534.2 738.1,537.5" fill="#c6c6c6"/><line x1="740.9" y1="524.9" x2="740.9" y2="538.4" stroke="#7a7a7a" stroke-width="0.5"/><polygon points="592.8,559.1 603.8,563.0 603.8,573.5 592.8,569.6" fill="#8e8e8e" stroke="#666" stroke-width="0.5"/><polygon points="594.3,561.4 602.3,564.2 602.3,571.2 594.3,568.4" fill="#bdbdbd"/><line x1="598.3" y1="561.0" x2="598.3" y2="571.5" stroke="#707070" stroke-width="0.5"/><line x1="592.8" y1="563.9" x2="603.8" y2="567.7" stroke="#707070" stroke-width="0.5"/><polygon points="592.8,574.5 603.8,578.3 603.8,596.3 592.8,592.5" fill="#8e8e8e" stroke="#666" stroke-width="0.5"/><polygon points="594.3,576.8 602.3,579.5 602.3,594.0 594.3,591.3" fill="#bdbdbd"/><line x1="598.3" y1="576.4" x2="598.3" y2="594.4" stroke="#707070" stroke-width="0.5"/><line x1="592.8" y1="582.6" x2="603.8" y2="586.4" stroke="#707070" stroke-width="0.5"/><polygon points="611.1,564.8 632.1,572.2 632.1,581.2 611.1,573.8" fill="#8e8e8e" stroke="#666" stroke-width="0.5"/><polygon points="612.6,567.1 630.6,573.4 630.6,578.9 612.6,572.6" fill="#bdbdbd"/><line x1="618.0" y1="567.3" x2="618.0" y2="576.3" stroke="#707070" stroke-width="0.5"/><line x1="625.0" y1="569.7" x2="625.0" y2="578.7" stroke="#707070" stroke-width="0.5"/><polygon points="611.5,577.8 632.5,585.2 632.5,614.2 611.5,606.8" fill="#a4a4a4" stroke="#6a6a6a" stroke-width="0.6"/><line x1="611.5" y1="581.1" x2="632.5" y2="588.4" stroke="#dcdcdc" stroke-width="0.9"/><line x1="611.5" y1="584.3" x2="632.5" y2="591.6" stroke="#dcdcdc" stroke-width="0.9"/><line x1="611.5" y1="587.5" x2="632.5" y2="594.8" stroke="#dcdcdc" stroke-width="0.9"/><line x1="611.5" y1="590.7" x2="632.5" y2="598.0" stroke="#dcdcdc" stroke-width="0.9"/><line x1="611.5" y1="594.0" x2="632.5" y2="601.3" stroke="#dcdcdc" stroke-width="0.9"/><line x1="611.5" y1="597.2" x2="632.5" y2="604.5" stroke="#dcdcdc" stroke-width="0.9"/><line x1="611.5" y1="600.4" x2="632.5" y2="607.7" stroke="#dcdcdc" stroke-width="0.9"/><line x1="611.5" y1="603.6" x2="632.5" y2="610.9" stroke="#dcdcdc" stroke-width="0.9"/><polygon points="585.3,561.2 611.1,548.4 728.5,475.3 720.5,478.3" fill="#6c6c6c" stroke="#555" stroke-width="0.4"/><polygon points="611.1,548.4 728.5,475.3 758.1,508.7 649.3,579.4" fill="url(#gRoof1)" stroke="#5c5c5c" stroke-width="0.6"/><line x1="621.8" y1="541.8" x2="659.2" y2="573.0" stroke="#5a5a5a" stroke-width="0.55" opacity="0.9"/><line x1="632.4" y1="535.1" x2="669.1" y2="566.5" stroke="#5a5a5a" stroke-width="0.55" opacity="0.9"/><line x1="643.1" y1="528.5" x2="679.0" y2="560.1" stroke="#5a5a5a" stroke-width="0.55" opacity="0.9"/><line x1="653.8" y1="521.8" x2="688.9" y2="553.7" stroke="#5a5a5a" stroke-width="0.55" opacity="0.9"/><line x1="664.5" y1="515.2" x2="698.8" y2="547.3" stroke="#5a5a5a" stroke-width="0.55" opacity="0.9"/><line x1="675.1" y1="508.5" x2="708.6" y2="540.8" stroke="#5a5a5a" stroke-width="0.55" opacity="0.9"/><line x1="685.8" y1="501.9" x2="718.5" y2="534.4" stroke="#5a5a5a" stroke-width="0.55" opacity="0.9"/><line x1="696.5" y1="495.2" x2="728.4" y2="528.0" stroke="#5a5a5a" stroke-width="0.55" opacity="0.9"/><line x1="707.2" y1="488.6" x2="738.3" y2="521.6" stroke="#5a5a5a" stroke-width="0.55" opacity="0.9"/><line x1="717.8" y1="481.9" x2="748.2" y2="515.1" stroke="#5a5a5a" stroke-width="0.55" opacity="0.9"/><line x1="649.3" y1="580.2" x2="758.1" y2="509.5" stroke="#4e4e4e" stroke-width="1"/></g>
<line x1="757.8" y1="495.4" x2="757.8" y2="547.5" stroke="#aab0d8" stroke-width="1.8"/><line x1="759.6" y1="495.4" x2="759.6" y2="547.5" stroke="#1a22b4" stroke-width="2.4"/><path d="M751.3,492.9 L751.3,486.7 C751.3,479.3 764.9,479.3 764.9,486.7 L764.9,492.9 C764.9,497.3 751.3,497.3 751.3,492.9 Z" fill="url(#gLamp)" stroke="#9a9a9a" stroke-width="0.5"/><path d="M751.3,487.4 C754.7,489.5 761.5,489.5 764.9,487.4" fill="none" stroke="#b0b0b0" stroke-width="0.6"/><ellipse cx="758.1" cy="481.3" rx="2.2" ry="1.1" fill="#555"/>
<line x1="568.0" y1="543.8" x2="568.0" y2="595.5" stroke="#aab0d8" stroke-width="1.8"/><line x1="569.8" y1="543.8" x2="569.8" y2="595.5" stroke="#1a22b4" stroke-width="2.4"/><path d="M561.5,541.3 L561.5,535.1 C561.5,527.7 575.1,527.7 575.1,535.1 L575.1,541.3 C575.1,545.7 561.5,545.7 561.5,541.3 Z" fill="url(#gLamp)" stroke="#9a9a9a" stroke-width="0.5"/><path d="M561.5,535.8 C564.9,537.9 571.7,537.9 575.1,535.8" fill="none" stroke="#b0b0b0" stroke-width="0.6"/><ellipse cx="568.3" cy="529.7" rx="2.2" ry="1.1" fill="#555"/>
<g><path d="M553.2,605.0 L556.8,605.0 L558.4,624.0 L551.6,624.0 Z" fill="#7a7a7a"/><ellipse cx="555.0" cy="624.0" rx="4.0" ry="1" fill="#8a8a8a" opacity="0.7"/><path d="M555.0,560.0 C565.2,560.0 572.6,581.4 573.5,594.7 C573.9,606.9 562.4,611.0 555.0,610.0 C547.6,611.0 536.1,606.9 536.5,594.7 C537.4,581.4 544.8,560.0 555.0,560.0 Z" fill="#b4b4b4" opacity="0.5" filter="url(#fBlur2)"/><path d="M555.0,560.0 C565.2,560.0 572.6,581.4 573.5,594.7 C573.9,606.9 562.4,611.0 555.0,610.0 C547.6,611.0 536.1,606.9 536.5,594.7 C537.4,581.4 544.8,560.0 555.0,560.0 Z" fill="url(#gTree)" filter="url(#fTree)"/></g>
<g><path d="M575.2,605.0 L578.8,605.0 L580.4,623.3 L573.6,623.3 Z" fill="#7a7a7a"/><ellipse cx="577.0" cy="623.3" rx="4.0" ry="1" fill="#8a8a8a" opacity="0.7"/><path d="M577.0,568.0 C585.8,568.0 592.2,586.1 593.0,597.2 C593.3,607.6 583.4,611.0 577.0,610.0 C570.6,611.0 560.7,607.6 561.0,597.2 C561.8,586.1 568.2,568.0 577.0,568.0 Z" fill="#b4b4b4" opacity="0.5" filter="url(#fBlur2)"/><path d="M577.0,568.0 C585.8,568.0 592.2,586.1 593.0,597.2 C593.3,607.6 583.4,611.0 577.0,610.0 C570.6,611.0 560.7,607.6 561.0,597.2 C561.8,586.1 568.2,568.0 577.0,568.0 Z" fill="url(#gTree)" filter="url(#fTree)"/></g>
<g><path d="M776.2,532.0 L779.8,532.0 L781.4,551.5 L774.6,551.5 Z" fill="#7a7a7a"/><ellipse cx="778.0" cy="551.5" rx="4.0" ry="1" fill="#8a8a8a" opacity="0.7"/><path d="M778.0,489.0 C787.9,489.0 795.1,509.6 796.0,522.3 C796.4,534.1 785.2,538.0 778.0,537.0 C770.8,538.0 759.6,534.1 760.0,522.3 C760.9,509.6 768.1,489.0 778.0,489.0 Z" fill="#b4b4b4" opacity="0.5" filter="url(#fBlur2)"/><path d="M778.0,489.0 C787.9,489.0 795.1,509.6 796.0,522.3 C796.4,534.1 785.2,538.0 778.0,537.0 C770.8,538.0 759.6,534.1 760.0,522.3 C760.9,509.6 768.1,489.0 778.0,489.0 Z" fill="url(#gTree)" filter="url(#fTree)"/></g>
<g><path d="M797.2,534.0 L800.8,534.0 L802.4,551.0 L795.6,551.0 Z" fill="#7a7a7a"/><ellipse cx="799.0" cy="551.0" rx="4.0" ry="1" fill="#8a8a8a" opacity="0.7"/><path d="M799.0,497.0 C807.8,497.0 814.2,515.1 815.0,526.2 C815.3,536.6 805.4,540.0 799.0,539.0 C792.6,540.0 782.7,536.6 783.0,526.2 C783.8,515.1 790.2,497.0 799.0,497.0 Z" fill="#b4b4b4" opacity="0.5" filter="url(#fBlur2)"/><path d="M799.0,497.0 C807.8,497.0 814.2,515.1 815.0,526.2 C815.3,536.6 805.4,540.0 799.0,539.0 C792.6,540.0 782.7,536.6 783.0,526.2 C783.8,515.1 790.2,497.0 799.0,497.0 Z" fill="url(#gTree)" filter="url(#fTree)"/></g>
<line x1="648.4" y1="566.0" x2="648.4" y2="624.5" stroke="#aab0d8" stroke-width="1.8"/><line x1="650.2" y1="566.0" x2="650.2" y2="624.5" stroke="#1a22b4" stroke-width="2.4"/><path d="M641.9,563.6 L641.9,557.4 C641.9,550.0 655.5,550.0 655.5,557.4 L655.5,563.6 C655.5,568.0 641.9,568.0 641.9,563.6 Z" fill="url(#gLamp)" stroke="#9a9a9a" stroke-width="0.5"/><path d="M641.9,558.1 C645.3,560.2 652.1,560.2 655.5,558.1" fill="none" stroke="#b0b0b0" stroke-width="0.6"/><ellipse cx="648.7" cy="552.0" rx="2.2" ry="1.1" fill="#555"/>
<line x1="940.0" y1="512.3" x2="956.0" y2="504.3" stroke="#8a8a8a" stroke-width="2.6" opacity="0.55" filter="url(#fBlur1)"/>
<line x1="899.7" y1="541.5" x2="915.7" y2="533.5" stroke="#8a8a8a" stroke-width="2.6" opacity="0.55" filter="url(#fBlur1)"/>
<line x1="858.0" y1="571.8" x2="874.0" y2="563.8" stroke="#8a8a8a" stroke-width="2.6" opacity="0.55" filter="url(#fBlur1)"/>
<line x1="814.0" y1="603.8" x2="830.0" y2="595.8" stroke="#8a8a8a" stroke-width="2.6" opacity="0.55" filter="url(#fBlur1)"/>
<line x1="768.8" y1="636.6" x2="784.8" y2="628.6" stroke="#8a8a8a" stroke-width="2.6" opacity="0.55" filter="url(#fBlur1)"/>
<line x1="722.0" y1="670.6" x2="738.0" y2="662.6" stroke="#8a8a8a" stroke-width="2.6" opacity="0.55" filter="url(#fBlur1)"/>
<line x1="672.0" y1="706.9" x2="688.0" y2="698.9" stroke="#8a8a8a" stroke-width="2.6" opacity="0.55" filter="url(#fBlur1)"/>
<line x1="621.0" y1="747.3" x2="637.0" y2="739.3" stroke="#8a8a8a" stroke-width="2.6" opacity="0.55" filter="url(#fBlur1)"/>
<line x1="976.3" y1="428.1" x2="939.0" y2="457.8" stroke="#7a7a7a" stroke-width="0.95"/>
<line x1="976.3" y1="428.1" x2="939.0" y2="457.8" stroke="#606060" stroke-width="1.2" stroke-dasharray="1 5.2" opacity="0.8"/>
<line x1="976.3" y1="438.1" x2="939.0" y2="468.0" stroke="#7a7a7a" stroke-width="0.95"/>
<line x1="976.3" y1="438.1" x2="939.0" y2="468.0" stroke="#606060" stroke-width="1.2" stroke-dasharray="1 5.2" opacity="0.8"/>
<line x1="976.3" y1="448.1" x2="939.0" y2="478.2" stroke="#7a7a7a" stroke-width="0.95"/>
<line x1="976.3" y1="448.1" x2="939.0" y2="478.2" stroke="#606060" stroke-width="1.2" stroke-dasharray="1 5.2" opacity="0.8"/>
<line x1="976.3" y1="458.1" x2="939.0" y2="488.4" stroke="#7a7a7a" stroke-width="0.95"/>
<line x1="976.3" y1="458.1" x2="939.0" y2="488.4" stroke="#606060" stroke-width="1.2" stroke-dasharray="1 5.2" opacity="0.8"/>
<line x1="976.3" y1="468.1" x2="939.0" y2="498.6" stroke="#7a7a7a" stroke-width="0.95"/>
<line x1="976.3" y1="468.1" x2="939.0" y2="498.6" stroke="#606060" stroke-width="1.2" stroke-dasharray="1 5.2" opacity="0.8"/>
<line x1="939.0" y1="457.8" x2="898.7" y2="487.8" stroke="#7a7a7a" stroke-width="0.95"/>
<line x1="939.0" y1="457.8" x2="898.7" y2="487.8" stroke="#606060" stroke-width="1.2" stroke-dasharray="1 5.2" opacity="0.8"/>
<line x1="939.0" y1="468.0" x2="898.7" y2="497.9" stroke="#7a7a7a" stroke-width="0.95"/>
<line x1="939.0" y1="468.0" x2="898.7" y2="497.9" stroke="#606060" stroke-width="1.2" stroke-dasharray="1 5.2" opacity="0.8"/>
<line x1="939.0" y1="478.2" x2="898.7" y2="507.9" stroke="#7a7a7a" stroke-width="0.95"/>
<line x1="939.0" y1="478.2" x2="898.7" y2="507.9" stroke="#606060" stroke-width="1.2" stroke-dasharray="1 5.2" opacity="0.8"/>
<line x1="939.0" y1="488.4" x2="898.7" y2="518.0" stroke="#7a7a7a" stroke-width="0.95"/>
<line x1="939.0" y1="488.4" x2="898.7" y2="518.0" stroke="#606060" stroke-width="1.2" stroke-dasharray="1 5.2" opacity="0.8"/>
<line x1="939.0" y1="498.6" x2="898.7" y2="528.0" stroke="#7a7a7a" stroke-width="0.95"/>
<line x1="939.0" y1="498.6" x2="898.7" y2="528.0" stroke="#606060" stroke-width="1.2" stroke-dasharray="1 5.2" opacity="0.8"/>
<line x1="898.7" y1="487.8" x2="857.0" y2="517.1" stroke="#7a7a7a" stroke-width="0.95"/>
<line x1="898.7" y1="487.8" x2="857.0" y2="517.1" stroke="#606060" stroke-width="1.2" stroke-dasharray="1 5.2" opacity="0.8"/>
<line x1="898.7" y1="497.9" x2="857.0" y2="527.4" stroke="#7a7a7a" stroke-width="0.95"/>
<line x1="898.7" y1="497.9" x2="857.0" y2="527.4" stroke="#606060" stroke-width="1.2" stroke-dasharray="1 5.2" opacity="0.8"/>
<line x1="898.7" y1="507.9" x2="857.0" y2="537.6" stroke="#7a7a7a" stroke-width="0.95"/>
<line x1="898.7" y1="507.9" x2="857.0" y2="537.6" stroke="#606060" stroke-width="1.2" stroke-dasharray="1 5.2" opacity="0.8"/>
<line x1="898.7" y1="518.0" x2="857.0" y2="547.8" stroke="#7a7a7a" stroke-width="0.95"/>
<line x1="898.7" y1="518.0" x2="857.0" y2="547.8" stroke="#606060" stroke-width="1.2" stroke-dasharray="1 5.2" opacity="0.8"/>
<line x1="898.7" y1="528.0" x2="857.0" y2="558.0" stroke="#7a7a7a" stroke-width="0.95"/>
<line x1="898.7" y1="528.0" x2="857.0" y2="558.0" stroke="#606060" stroke-width="1.2" stroke-dasharray="1 5.2" opacity="0.8"/>
<line x1="857.0" y1="517.1" x2="813.0" y2="548.4" stroke="#7a7a7a" stroke-width="0.95"/>
<line x1="857.0" y1="517.1" x2="813.0" y2="548.4" stroke="#606060" stroke-width="1.2" stroke-dasharray="1 5.2" opacity="0.8"/>
<line x1="857.0" y1="527.4" x2="813.0" y2="558.8" stroke="#7a7a7a" stroke-width="0.95"/>
<line x1="857.0" y1="527.4" x2="813.0" y2="558.8" stroke="#606060" stroke-width="1.2" stroke-dasharray="1 5.2" opacity="0.8"/>
<line x1="857.0" y1="537.6" x2="813.0" y2="569.1" stroke="#7a7a7a" stroke-width="0.95"/>
<line x1="857.0" y1="537.6" x2="813.0" y2="569.1" stroke="#606060" stroke-width="1.2" stroke-dasharray="1 5.2" opacity="0.8"/>
<line x1="857.0" y1="547.8" x2="813.0" y2="579.5" stroke="#7a7a7a" stroke-width="0.95"/>
<line x1="857.0" y1="547.8" x2="813.0" y2="579.5" stroke="#606060" stroke-width="1.2" stroke-dasharray="1 5.2" opacity="0.8"/>
<line x1="857.0" y1="558.0" x2="813.0" y2="589.8" stroke="#7a7a7a" stroke-width="0.95"/>
<line x1="857.0" y1="558.0" x2="813.0" y2="589.8" stroke="#606060" stroke-width="1.2" stroke-dasharray="1 5.2" opacity="0.8"/>
<line x1="813.0" y1="548.4" x2="767.8" y2="579.5" stroke="#7a7a7a" stroke-width="0.95"/>
<line x1="813.0" y1="548.4" x2="767.8" y2="579.5" stroke="#606060" stroke-width="1.2" stroke-dasharray="1 5.2" opacity="0.8"/>
<line x1="813.0" y1="558.8" x2="767.8" y2="590.2" stroke="#7a7a7a" stroke-width="0.95"/>
<line x1="813.0" y1="558.8" x2="767.8" y2="590.2" stroke="#606060" stroke-width="1.2" stroke-dasharray="1 5.2" opacity="0.8"/>
<line x1="813.0" y1="569.1" x2="767.8" y2="600.8" stroke="#7a7a7a" stroke-width="0.95"/>
<line x1="813.0" y1="569.1" x2="767.8" y2="600.8" stroke="#606060" stroke-width="1.2" stroke-dasharray="1 5.2" opacity="0.8"/>
<line x1="813.0" y1="579.5" x2="767.8" y2="611.5" stroke="#7a7a7a" stroke-width="0.95"/>
<line x1="813.0" y1="579.5" x2="767.8" y2="611.5" stroke="#606060" stroke-width="1.2" stroke-dasharray="1 5.2" opacity="0.8"/>
<line x1="813.0" y1="589.8" x2="767.8" y2="622.2" stroke="#7a7a7a" stroke-width="0.95"/>
<line x1="813.0" y1="589.8" x2="767.8" y2="622.2" stroke="#606060" stroke-width="1.2" stroke-dasharray="1 5.2" opacity="0.8"/>
<line x1="767.8" y1="579.5" x2="721.0" y2="613.9" stroke="#7a7a7a" stroke-width="0.95"/>
<line x1="767.8" y1="579.5" x2="721.0" y2="613.9" stroke="#606060" stroke-width="1.2" stroke-dasharray="1 5.2" opacity="0.8"/>
<line x1="767.8" y1="590.2" x2="721.0" y2="624.5" stroke="#7a7a7a" stroke-width="0.95"/>
<line x1="767.8" y1="590.2" x2="721.0" y2="624.5" stroke="#606060" stroke-width="1.2" stroke-dasharray="1 5.2" opacity="0.8"/>
<line x1="767.8" y1="600.8" x2="721.0" y2="635.1" stroke="#7a7a7a" stroke-width="0.95"/>
<line x1="767.8" y1="600.8" x2="721.0" y2="635.1" stroke="#606060" stroke-width="1.2" stroke-dasharray="1 5.2" opacity="0.8"/>
<line x1="767.8" y1="611.5" x2="721.0" y2="645.7" stroke="#7a7a7a" stroke-width="0.95"/>
<line x1="767.8" y1="611.5" x2="721.0" y2="645.7" stroke="#606060" stroke-width="1.2" stroke-dasharray="1 5.2" opacity="0.8"/>
<line x1="767.8" y1="622.2" x2="721.0" y2="656.3" stroke="#7a7a7a" stroke-width="0.95"/>
<line x1="767.8" y1="622.2" x2="721.0" y2="656.3" stroke="#606060" stroke-width="1.2" stroke-dasharray="1 5.2" opacity="0.8"/>
<line x1="721.0" y1="613.9" x2="671.0" y2="648.5" stroke="#7a7a7a" stroke-width="0.95"/>
<line x1="721.0" y1="613.9" x2="671.0" y2="648.5" stroke="#606060" stroke-width="1.2" stroke-dasharray="1 5.2" opacity="0.8"/>
<line x1="721.0" y1="624.5" x2="671.0" y2="659.4" stroke="#7a7a7a" stroke-width="0.95"/>
<line x1="721.0" y1="624.5" x2="671.0" y2="659.4" stroke="#606060" stroke-width="1.2" stroke-dasharray="1 5.2" opacity="0.8"/>
<line x1="721.0" y1="635.1" x2="671.0" y2="670.3" stroke="#7a7a7a" stroke-width="0.95"/>
<line x1="721.0" y1="635.1" x2="671.0" y2="670.3" stroke="#606060" stroke-width="1.2" stroke-dasharray="1 5.2" opacity="0.8"/>
<line x1="721.0" y1="645.7" x2="671.0" y2="681.2" stroke="#7a7a7a" stroke-width="0.95"/>
<line x1="721.0" y1="645.7" x2="671.0" y2="681.2" stroke="#606060" stroke-width="1.2" stroke-dasharray="1 5.2" opacity="0.8"/>
<line x1="721.0" y1="656.3" x2="671.0" y2="692.1" stroke="#7a7a7a" stroke-width="0.95"/>
<line x1="721.0" y1="656.3" x2="671.0" y2="692.1" stroke="#606060" stroke-width="1.2" stroke-dasharray="1 5.2" opacity="0.8"/>
<line x1="671.0" y1="648.5" x2="620.0" y2="684.6" stroke="#7a7a7a" stroke-width="0.95"/>
<line x1="671.0" y1="648.5" x2="620.0" y2="684.6" stroke="#606060" stroke-width="1.2" stroke-dasharray="1 5.2" opacity="0.8"/>
<line x1="671.0" y1="659.4" x2="620.0" y2="696.3" stroke="#7a7a7a" stroke-width="0.95"/>
<line x1="671.0" y1="659.4" x2="620.0" y2="696.3" stroke="#606060" stroke-width="1.2" stroke-dasharray="1 5.2" opacity="0.8"/>
<line x1="671.0" y1="670.3" x2="620.0" y2="708.0" stroke="#7a7a7a" stroke-width="0.95"/>
<line x1="671.0" y1="670.3" x2="620.0" y2="708.0" stroke="#606060" stroke-width="1.2" stroke-dasharray="1 5.2" opacity="0.8"/>
<line x1="671.0" y1="681.2" x2="620.0" y2="719.7" stroke="#7a7a7a" stroke-width="0.95"/>
<line x1="671.0" y1="681.2" x2="620.0" y2="719.7" stroke="#606060" stroke-width="1.2" stroke-dasharray="1 5.2" opacity="0.8"/>
<line x1="671.0" y1="692.1" x2="620.0" y2="731.4" stroke="#7a7a7a" stroke-width="0.95"/>
<line x1="671.0" y1="692.1" x2="620.0" y2="731.4" stroke="#606060" stroke-width="1.2" stroke-dasharray="1 5.2" opacity="0.8"/>
<rect x="937.1" y="456.7" width="3.8" height="56.6" rx="0.8" fill="url(#gPost)" stroke="#6e6e6e" stroke-width="0.5"/>
<rect x="896.8" y="486.7" width="3.8" height="55.8" rx="0.8" fill="url(#gPost)" stroke="#6e6e6e" stroke-width="0.5"/>
<rect x="855.1" y="516.0" width="3.8" height="56.8" rx="0.8" fill="url(#gPost)" stroke="#6e6e6e" stroke-width="0.5"/>
<rect x="811.1" y="547.3" width="3.8" height="57.5" rx="0.8" fill="url(#gPost)" stroke="#6e6e6e" stroke-width="0.5"/>
<rect x="765.9" y="578.3" width="3.8" height="59.3" rx="0.8" fill="url(#gPost)" stroke="#6e6e6e" stroke-width="0.5"/>
<rect x="719.1" y="612.7" width="3.8" height="58.9" rx="0.8" fill="url(#gPost)" stroke="#6e6e6e" stroke-width="0.5"/>
<rect x="669.1" y="647.3" width="3.8" height="60.6" rx="0.8" fill="url(#gPost)" stroke="#6e6e6e" stroke-width="0.5"/>
<rect x="618.1" y="683.3" width="3.8" height="65.0" rx="0.8" fill="url(#gPost)" stroke="#6e6e6e" stroke-width="0.5"/>
<line x1="267.0" y1="611.0" x2="285.0" y2="607.0" stroke="#8a8a8a" stroke-width="2.6" opacity="0.55" filter="url(#fBlur1)"/>
<line x1="320.3" y1="630.7" x2="338.3" y2="626.7" stroke="#8a8a8a" stroke-width="2.6" opacity="0.55" filter="url(#fBlur1)"/>
<line x1="211.8" y1="535.5" x2="266.0" y2="555.5" stroke="#7a7a7a" stroke-width="0.95"/>
<line x1="211.8" y1="535.5" x2="266.0" y2="555.5" stroke="#606060" stroke-width="1.2" stroke-dasharray="1 5.2" opacity="0.8"/>
<line x1="211.8" y1="546.1" x2="266.0" y2="565.8" stroke="#7a7a7a" stroke-width="0.95"/>
<line x1="211.8" y1="546.1" x2="266.0" y2="565.8" stroke="#606060" stroke-width="1.2" stroke-dasharray="1 5.2" opacity="0.8"/>
<line x1="211.8" y1="556.8" x2="266.0" y2="576.2" stroke="#7a7a7a" stroke-width="0.95"/>
<line x1="211.8" y1="556.8" x2="266.0" y2="576.2" stroke="#606060" stroke-width="1.2" stroke-dasharray="1 5.2" opacity="0.8"/>
<line x1="211.8" y1="567.5" x2="266.0" y2="586.6" stroke="#7a7a7a" stroke-width="0.95"/>
<line x1="211.8" y1="567.5" x2="266.0" y2="586.6" stroke="#606060" stroke-width="1.2" stroke-dasharray="1 5.2" opacity="0.8"/>
<line x1="211.8" y1="578.1" x2="266.0" y2="597.0" stroke="#7a7a7a" stroke-width="0.95"/>
<line x1="211.8" y1="578.1" x2="266.0" y2="597.0" stroke="#606060" stroke-width="1.2" stroke-dasharray="1 5.2" opacity="0.8"/>
<line x1="266.0" y1="555.5" x2="319.3" y2="574.5" stroke="#7a7a7a" stroke-width="0.95"/>
<line x1="266.0" y1="555.5" x2="319.3" y2="574.5" stroke="#606060" stroke-width="1.2" stroke-dasharray="1 5.2" opacity="0.8"/>
<line x1="266.0" y1="565.8" x2="319.3" y2="585.0" stroke="#7a7a7a" stroke-width="0.95"/>
<line x1="266.0" y1="565.8" x2="319.3" y2="585.0" stroke="#606060" stroke-width="1.2" stroke-dasharray="1 5.2" opacity="0.8"/>
<line x1="266.0" y1="576.2" x2="319.3" y2="595.5" stroke="#7a7a7a" stroke-width="0.95"/>
<line x1="266.0" y1="576.2" x2="319.3" y2="595.5" stroke="#606060" stroke-width="1.2" stroke-dasharray="1 5.2" opacity="0.8"/>
<line x1="266.0" y1="586.6" x2="319.3" y2="606.0" stroke="#7a7a7a" stroke-width="0.95"/>
<line x1="266.0" y1="586.6" x2="319.3" y2="606.0" stroke="#606060" stroke-width="1.2" stroke-dasharray="1 5.2" opacity="0.8"/>
<line x1="266.0" y1="597.0" x2="319.3" y2="616.5" stroke="#7a7a7a" stroke-width="0.95"/>
<line x1="266.0" y1="597.0" x2="319.3" y2="616.5" stroke="#606060" stroke-width="1.2" stroke-dasharray="1 5.2" opacity="0.8"/>
<line x1="319.3" y1="574.5" x2="345.0" y2="583.6" stroke="#7a7a7a" stroke-width="0.95"/>
<line x1="319.3" y1="574.5" x2="345.0" y2="583.6" stroke="#606060" stroke-width="1.2" stroke-dasharray="1 5.2" opacity="0.8"/>
<line x1="319.3" y1="585.0" x2="345.0" y2="594.0" stroke="#7a7a7a" stroke-width="0.95"/>
<line x1="319.3" y1="585.0" x2="345.0" y2="594.0" stroke="#606060" stroke-width="1.2" stroke-dasharray="1 5.2" opacity="0.8"/>
<line x1="319.3" y1="595.5" x2="345.0" y2="604.4" stroke="#7a7a7a" stroke-width="0.95"/>
<line x1="319.3" y1="595.5" x2="345.0" y2="604.4" stroke="#606060" stroke-width="1.2" stroke-dasharray="1 5.2" opacity="0.8"/>
<line x1="319.3" y1="606.0" x2="345.0" y2="614.7" stroke="#7a7a7a" stroke-width="0.95"/>
<line x1="319.3" y1="606.0" x2="345.0" y2="614.7" stroke="#606060" stroke-width="1.2" stroke-dasharray="1 5.2" opacity="0.8"/>
<line x1="319.3" y1="616.5" x2="345.0" y2="625.0" stroke="#7a7a7a" stroke-width="0.95"/>
<line x1="319.3" y1="616.5" x2="345.0" y2="625.0" stroke="#606060" stroke-width="1.2" stroke-dasharray="1 5.2" opacity="0.8"/>
<rect x="264.1" y="554.3" width="3.8" height="57.7" rx="0.8" fill="url(#gPost)" stroke="#6e6e6e" stroke-width="0.5"/>
<rect x="317.4" y="573.3" width="3.8" height="58.4" rx="0.8" fill="url(#gPost)" stroke="#6e6e6e" stroke-width="0.5"/>
<line x1="474.3" y1="688.4" x2="492.3" y2="683.4" stroke="#8a8a8a" stroke-width="2.6" opacity="0.55" filter="url(#fBlur1)"/>
<line x1="525.0" y1="707.2" x2="543.0" y2="702.2" stroke="#8a8a8a" stroke-width="2.6" opacity="0.55" filter="url(#fBlur1)"/>
<line x1="573.3" y1="725.6" x2="591.3" y2="720.6" stroke="#8a8a8a" stroke-width="2.6" opacity="0.55" filter="url(#fBlur1)"/>
<line x1="621.0" y1="747.3" x2="639.0" y2="742.3" stroke="#8a8a8a" stroke-width="2.6" opacity="0.55" filter="url(#fBlur1)"/>
<line x1="440.0" y1="619.2" x2="473.3" y2="631.2" stroke="#7a7a7a" stroke-width="0.95"/>
<line x1="440.0" y1="619.2" x2="473.3" y2="631.2" stroke="#606060" stroke-width="1.2" stroke-dasharray="1 5.2" opacity="0.8"/>
<line x1="440.0" y1="630.0" x2="473.3" y2="641.9" stroke="#7a7a7a" stroke-width="0.95"/>
<line x1="440.0" y1="630.0" x2="473.3" y2="641.9" stroke="#606060" stroke-width="1.2" stroke-dasharray="1 5.2" opacity="0.8"/>
<line x1="440.0" y1="640.8" x2="473.3" y2="652.6" stroke="#7a7a7a" stroke-width="0.95"/>
<line x1="440.0" y1="640.8" x2="473.3" y2="652.6" stroke="#606060" stroke-width="1.2" stroke-dasharray="1 5.2" opacity="0.8"/>
<line x1="440.0" y1="651.6" x2="473.3" y2="663.2" stroke="#7a7a7a" stroke-width="0.95"/>
<line x1="440.0" y1="651.6" x2="473.3" y2="663.2" stroke="#606060" stroke-width="1.2" stroke-dasharray="1 5.2" opacity="0.8"/>
<line x1="440.0" y1="662.4" x2="473.3" y2="673.9" stroke="#7a7a7a" stroke-width="0.95"/>
<line x1="440.0" y1="662.4" x2="473.3" y2="673.9" stroke="#606060" stroke-width="1.2" stroke-dasharray="1 5.2" opacity="0.8"/>
<line x1="473.3" y1="631.2" x2="524.0" y2="649.5" stroke="#7a7a7a" stroke-width="0.95"/>
<line x1="473.3" y1="631.2" x2="524.0" y2="649.5" stroke="#606060" stroke-width="1.2" stroke-dasharray="1 5.2" opacity="0.8"/>
<line x1="473.3" y1="641.9" x2="524.0" y2="660.3" stroke="#7a7a7a" stroke-width="0.95"/>
<line x1="473.3" y1="641.9" x2="524.0" y2="660.3" stroke="#606060" stroke-width="1.2" stroke-dasharray="1 5.2" opacity="0.8"/>
<line x1="473.3" y1="652.6" x2="524.0" y2="671.0" stroke="#7a7a7a" stroke-width="0.95"/>
<line x1="473.3" y1="652.6" x2="524.0" y2="671.0" stroke="#606060" stroke-width="1.2" stroke-dasharray="1 5.2" opacity="0.8"/>
<line x1="473.3" y1="663.2" x2="524.0" y2="681.8" stroke="#7a7a7a" stroke-width="0.95"/>
<line x1="473.3" y1="663.2" x2="524.0" y2="681.8" stroke="#606060" stroke-width="1.2" stroke-dasharray="1 5.2" opacity="0.8"/>
<line x1="473.3" y1="673.9" x2="524.0" y2="692.6" stroke="#7a7a7a" stroke-width="0.95"/>
<line x1="473.3" y1="673.9" x2="524.0" y2="692.6" stroke="#606060" stroke-width="1.2" stroke-dasharray="1 5.2" opacity="0.8"/>
<line x1="524.0" y1="649.5" x2="572.3" y2="667.2" stroke="#7a7a7a" stroke-width="0.95"/>
<line x1="524.0" y1="649.5" x2="572.3" y2="667.2" stroke="#606060" stroke-width="1.2" stroke-dasharray="1 5.2" opacity="0.8"/>
<line x1="524.0" y1="660.3" x2="572.3" y2="678.1" stroke="#7a7a7a" stroke-width="0.95"/>
<line x1="524.0" y1="660.3" x2="572.3" y2="678.1" stroke="#606060" stroke-width="1.2" stroke-dasharray="1 5.2" opacity="0.8"/>
<line x1="524.0" y1="671.0" x2="572.3" y2="689.0" stroke="#7a7a7a" stroke-width="0.95"/>
<line x1="524.0" y1="671.0" x2="572.3" y2="689.0" stroke="#606060" stroke-width="1.2" stroke-dasharray="1 5.2" opacity="0.8"/>
<line x1="524.0" y1="681.8" x2="572.3" y2="699.9" stroke="#7a7a7a" stroke-width="0.95"/>
<line x1="524.0" y1="681.8" x2="572.3" y2="699.9" stroke="#606060" stroke-width="1.2" stroke-dasharray="1 5.2" opacity="0.8"/>
<line x1="524.0" y1="692.6" x2="572.3" y2="710.8" stroke="#7a7a7a" stroke-width="0.95"/>
<line x1="524.0" y1="692.6" x2="572.3" y2="710.8" stroke="#606060" stroke-width="1.2" stroke-dasharray="1 5.2" opacity="0.8"/>
<line x1="572.3" y1="667.2" x2="620.0" y2="684.6" stroke="#7a7a7a" stroke-width="0.95"/>
<line x1="572.3" y1="667.2" x2="620.0" y2="684.6" stroke="#606060" stroke-width="1.2" stroke-dasharray="1 5.2" opacity="0.8"/>
<line x1="572.3" y1="678.1" x2="620.0" y2="696.3" stroke="#7a7a7a" stroke-width="0.95"/>
<line x1="572.3" y1="678.1" x2="620.0" y2="696.3" stroke="#606060" stroke-width="1.2" stroke-dasharray="1 5.2" opacity="0.8"/>
<line x1="572.3" y1="689.0" x2="620.0" y2="708.0" stroke="#7a7a7a" stroke-width="0.95"/>
<line x1="572.3" y1="689.0" x2="620.0" y2="708.0" stroke="#606060" stroke-width="1.2" stroke-dasharray="1 5.2" opacity="0.8"/>
<line x1="572.3" y1="699.9" x2="620.0" y2="719.7" stroke="#7a7a7a" stroke-width="0.95"/>
<line x1="572.3" y1="699.9" x2="620.0" y2="719.7" stroke="#606060" stroke-width="1.2" stroke-dasharray="1 5.2" opacity="0.8"/>
<line x1="572.3" y1="710.8" x2="620.0" y2="731.4" stroke="#7a7a7a" stroke-width="0.95"/>
<line x1="572.3" y1="710.8" x2="620.0" y2="731.4" stroke="#606060" stroke-width="1.2" stroke-dasharray="1 5.2" opacity="0.8"/>
<rect x="471.4" y="630.0" width="3.8" height="59.4" rx="0.8" fill="url(#gPost)" stroke="#6e6e6e" stroke-width="0.5"/>
<rect x="522.1" y="648.3" width="3.8" height="59.9" rx="0.8" fill="url(#gPost)" stroke="#6e6e6e" stroke-width="0.5"/>
<rect x="570.4" y="666.0" width="3.8" height="60.6" rx="0.8" fill="url(#gPost)" stroke="#6e6e6e" stroke-width="0.5"/>
<rect x="618.1" y="683.3" width="3.8" height="65.0" rx="0.8" fill="url(#gPost)" stroke="#6e6e6e" stroke-width="0.5"/>
<polyline points="207.3,591.7 616.0,743.3 976.3,481.7" fill="none" stroke="#1a22b4" stroke-width="2.9" stroke-linejoin="round"/>
<line x1="206.9" y1="527.9" x2="206.9" y2="592.5" stroke="#1a22b4" stroke-width="2.5"/>
<line x1="616.0" y1="680.0" x2="616.0" y2="744.0" stroke="#1a22b4" stroke-width="2.5"/>
<g transform="translate(208.5,520.5)  rotate(0)"><polygon points="-10,-2 -5,-6.5 9,-1.5 8.5,4.5 -4,6 -10,2.5" fill="url(#gCam)" stroke="#777" stroke-width="0.4"/><polygon points="-10,-2 -5,-6.5 9,-1.5 4,1" fill="#dcdcdc" opacity="0.8"/><line x1="-7.5" y1="-3.2" x2="6.5" y2="-0.2" stroke="#fff" stroke-width="0.8" opacity="0.8"/><polygon points="6,1 10.5,3 10.5,7 7,7.2 4.5,5" fill="#8a8a8a" stroke="#666" stroke-width="0.3"/></g>
<g transform="translate(611.5,327.5) scale(-1,1) rotate(0)"><polygon points="-10,-2 -5,-6.5 9,-1.5 8.5,4.5 -4,6 -10,2.5" fill="url(#gCam)" stroke="#777" stroke-width="0.4"/><polygon points="-10,-2 -5,-6.5 9,-1.5 4,1" fill="#dcdcdc" opacity="0.8"/><line x1="-7.5" y1="-3.2" x2="6.5" y2="-0.2" stroke="#fff" stroke-width="0.8" opacity="0.8"/><polygon points="6,1 10.5,3 10.5,7 7,7.2 4.5,5" fill="#8a8a8a" stroke="#666" stroke-width="0.3"/></g>
<g><polygon points="958.0,414.1 968.1,413.0 985.8,417.4 985.8,423.4 975.9,424.5 963.4,422.4 958.0,417.7" fill="url(#gCam)" stroke="#6e6e6e" stroke-width="0.5"/><polygon points="958.0,414.1 968.1,413.0 985.8,417.4 976.5,418.8 962.9,415.6" fill="#dadada" opacity="0.85"/><polyline points="961.9,416.2 976.5,419.7" stroke="#fff" stroke-width="0.9" fill="none"/><polyline points="964.5,418.8 975.9,421.4" stroke="#6a6a6a" stroke-width="0.9" fill="none"/></g>
<g><ellipse cx="633.8" cy="665.6" rx="2.6" ry="2.9" fill="#8a8a8a" stroke="#666" stroke-width="0.4"/><polygon points="619.5,673.4 630.9,665.6 630.9,670.8 619.5,679.2" fill="#8e8e8e" stroke="#666" stroke-width="0.4"/><polygon points="611.1,672.9 619.5,673.4 619.5,679.2 611.4,678.6" fill="#a2a2a2" stroke="#666" stroke-width="0.4"/><polygon points="611.1,672.9 624.2,664.8 630.9,665.6 619.5,673.4" fill="#d2d2d2" stroke="#777" stroke-width="0.4"/><polyline points="615.3,671.9 627.3,665.1" stroke="#6c6c6c" stroke-width="0.9" fill="none"/></g>
<g><polygon points="426.3,623.2 453.0,600.5 453.0,682.4 426.3,705.1" fill="url(#gGateS)" stroke="#7a7a7a" stroke-width="0.6"/>
<polygon points="431.5,631.9 439.7,624.9 439.7,644.1 431.5,651.0" fill="#a8a8a8" stroke="#7a7a7a" stroke-width="0.5"/>
<polygon points="432.8,633.6 438.7,628.6 438.7,642.0 432.8,647.6" fill="#c4c4c4"/>
<polygon points="349.7,624.9 387.1,640.6 387.1,644.9 354.0,670.2 349.7,672.0" fill="#b4b4b4"/>
<polygon points="349.7,626.7 373.2,637.1 352.3,668.5 349.7,670.2" fill="#cdcdcd" filter="url(#fBlur1)"/>
<polygon points="335.7,591.8 426.3,623.2 426.3,705.1 415.9,700.7 415.9,652.8 349.7,626.7 349.7,672.8 335.7,668.5" fill="url(#gGateF)" stroke="#7a7a7a" stroke-width="0.6"/>
<line x1="348.4" y1="619.7" x2="415.9" y2="643.7" stroke="#808080" stroke-width="0.8"/>
<line x1="348.4" y1="621.3" x2="415.9" y2="645.3" stroke="#d8d8d8" stroke-width="0.8"/>
<line x1="348.4" y1="622.8" x2="415.9" y2="646.9" stroke="#808080" stroke-width="0.8"/>
<line x1="348.4" y1="624.4" x2="415.9" y2="648.4" stroke="#d8d8d8" stroke-width="0.8"/>
<line x1="348.4" y1="626.0" x2="415.9" y2="650.0" stroke="#808080" stroke-width="0.8"/>
<line x1="348.4" y1="627.5" x2="415.9" y2="651.6" stroke="#d8d8d8" stroke-width="0.8"/>
<polygon points="335.7,591.8 365.3,568.3 453.0,600.5 426.3,623.2" fill="url(#gGateT)" stroke="#6a6a6a" stroke-width="0.7"/>
<polygon points="343.6,592.3 366.7,573.9 446.9,602.8 425.8,619.3" fill="#e6e6e6" stroke="#6e6e6e" stroke-width="0.7"/>
<polygon points="347.9,592.3 367.1,577.0 442.0,603.7 424.6,617.1" fill="url(#gGateT)" stroke="#a0a0a0" stroke-width="0.4"/>
<polygon points="354.0,587.5 362.7,579.6 367.1,581.4 358.4,589.7" fill="#b8b8b8" stroke="#888" stroke-width="0.4"/>
<polygon points="422.0,610.1 432.4,601.4 435.0,603.1 425.1,612.4" fill="#b0b0b0" stroke="#888" stroke-width="0.4"/>
<polygon points="382.2,616.2 383.1,620.1 387.0,620.7 383.6,622.7 384.3,626.7 381.3,624.1 377.7,625.9 379.3,622.2 376.5,619.4 380.4,619.8" fill="#7c7c7c" stroke="#5e5e5e" stroke-width="0.4"/></g>
<line x1="334.0" y1="638.7" x2="456.0" y2="683.9" stroke="#1a22b4" stroke-width="2.6"/>
<polyline points="424.0,642.0 424.0,704.2 448.1,684.1" fill="none" stroke="#1a22b4" stroke-width="2.5"/>
<line x1="422.3" y1="642.0" x2="422.3" y2="700.0" stroke="#aab0d8" stroke-width="1.4"/>
<path d="M416.8,637.9 L416.8,632.3 C416.8,625.6 427.2,625.6 427.2,632.3 L427.2,637.9 C427.2,641.8 416.8,641.8 416.8,637.9 Z" fill="url(#gLamp)" stroke="#9a9a9a" stroke-width="0.5"/><path d="M416.8,632.9 C419.4,634.8 424.6,634.8 427.2,632.9" fill="none" stroke="#b0b0b0" stroke-width="0.6"/><ellipse cx="422.0" cy="627.4" rx="2.2" ry="1.1" fill="#555"/>
<ellipse cx="338.4" cy="682.3" rx="9.6" ry="4.4" fill="#d9d9d9"/>
<ellipse cx="338.4" cy="680.2" rx="9.6" ry="4.4" fill="#f2f2f2" stroke="#cfcfcf" stroke-width="0.5"/>
<path transform="translate(315,615) scale(0.0774)" d="M250,120 L325,120 L320,170 L310,210 L350,235 L380,270 L390,380 L385,500 L365,530 L360,700 L370,800 L340,810 L310,790 L290,800 L260,800 L250,770 L245,600 L230,530 L225,640 L235,720 L220,730 L205,560 L200,400 L210,260 L250,225 L270,210 L260,170 Z" fill="#050505"/>
<rect x="862.6" y="560.8" width="28.8" height="54.4" fill="none" stroke="#cc1a1e" stroke-width="1.8"/>
<path transform="translate(850,550) scale(0.07262)" d="M340,180 C300,180 285,220 295,260 L320,290 L340,330 L330,380 L300,430 L240,460 L220,480 L225,510 L250,500 L300,470 L340,480 L360,520 L350,580 L300,660 L285,760 L270,800 L235,830 L240,850 L300,830 L320,800 L330,740 L390,650 L395,740 L420,790 L455,800 L460,840 L480,820 L495,760 L470,740 L480,680 L510,560 L515,450 L495,320 L450,260 L400,235 C395,200 375,180 340,180 Z" fill="#080808"/>
<text x="155.0" y="291.0" font-size="17.2" text-anchor="middle" textLength="86.0" lengthAdjust="spacingAndGlyphs" stroke="#111" stroke-width="0.55">监狱内监控</text>
<text class="b" x="180.6" y="236.8" font-size="10.4" text-anchor="middle" textLength="31.0" lengthAdjust="spacingAndGlyphs">警戒区</text>
<text class="b" x="316.0" y="192.3" font-size="10.2" text-anchor="middle" textLength="40.6" lengthAdjust="spacingAndGlyphs">犯人打架</text>
<text x="353.0" y="299.5" font-size="9.2" text-anchor="middle" textLength="47.0" lengthAdjust="spacingAndGlyphs" stroke="#111" stroke-width="0.25">SmartTrack</text>
<text class="b" x="353.0" y="311.2" font-size="9.2" text-anchor="middle" textLength="63.3" lengthAdjust="spacingAndGlyphs">智能图像处理器</text>
<text x="906.1" y="69.3" font-size="9.2" text-anchor="middle" textLength="47.0" lengthAdjust="spacingAndGlyphs" stroke="#111" stroke-width="0.25">SmartTrack</text>
<text class="b" x="906.1" y="80.8" font-size="9.1" text-anchor="middle" textLength="63.3" lengthAdjust="spacingAndGlyphs">智能图像处理器</text>
<text class="b" x="768.3" y="141.6" font-size="9.1" text-anchor="middle" textLength="45.3" lengthAdjust="spacingAndGlyphs">报警控制器</text>
<text class="b" x="977.5" y="76.3" font-size="9.1" text-anchor="middle" textLength="45.0" lengthAdjust="spacingAndGlyphs">监控客户端</text>
<text class="b" x="1036.8" y="76.3" font-size="9.1" text-anchor="middle" textLength="45.0" lengthAdjust="spacingAndGlyphs">监控客户端</text>
<text class="b" x="852.2" y="273.8" font-size="9.0" text-anchor="middle" textLength="53.3" lengthAdjust="spacingAndGlyphs">系统管理平台</text>
<text class="b" x="848.8" y="296.4" font-size="11.4" text-anchor="middle" textLength="125.0" lengthAdjust="spacingAndGlyphs">智能视频分析和管理平台</text>
<text class="b" x="1008.7" y="272.6" font-size="9.0" text-anchor="middle" textLength="37.1" lengthAdjust="spacing">监 视 器</text>
<text class="b" x="1005.2" y="293.6" font-size="11.2" text-anchor="middle" textLength="62.9" lengthAdjust="spacing">监 控 终 端</text>
<text x="925.9" y="330.9" font-size="16.4" text-anchor="middle" textLength="94.7" lengthAdjust="spacing" stroke="#111" stroke-width="0.52">监 控 中 心</text>
<text x="146.7" y="658.0" font-size="17.1" font-weight="500" text-anchor="middle" textLength="85.3" lengthAdjust="spacingAndGlyphs">虚拟警戒线</text>
<text x="483.3" y="594.6" font-size="17.3" font-weight="500" text-anchor="middle" textLength="52.0" lengthAdjust="spacingAndGlyphs">警戒区</text>
<text x="966.3" y="613.0" font-size="17.1" font-weight="500" text-anchor="middle" textLength="120.0" lengthAdjust="spacingAndGlyphs">警戒线穿越检测</text>
<text x="314.0" y="789.3" font-size="17.1" text-anchor="middle" textLength="153.5" lengthAdjust="spacingAndGlyphs" stroke="#111" stroke-width="0.55">哨位安全管理及防护</text>
<text x="141.0" y="973.7" font-size="14.6" text-anchor="middle" textLength="57.5" lengthAdjust="spacingAndGlyphs" stroke="#111" stroke-width="0.44">哨位睡岗</text>
<text x="313.7" y="973.7" font-size="14.6" text-anchor="middle" textLength="59.0" lengthAdjust="spacingAndGlyphs" stroke="#111" stroke-width="0.44">袭击哨位</text>
<text x="489.8" y="973.7" font-size="14.6" text-anchor="middle" textLength="57.5" lengthAdjust="spacingAndGlyphs" stroke="#111" stroke-width="0.44">哨位脱岗</text>
<text class="b" x="122.4" y="828.8" font-size="6.2" text-anchor="middle" textLength="116.0" lengthAdjust="spacingAndGlyphs" style="fill:#f6f6f6">2007年11月28日 星期三 22:01:36</text>
</svg>
</body>
</html>
